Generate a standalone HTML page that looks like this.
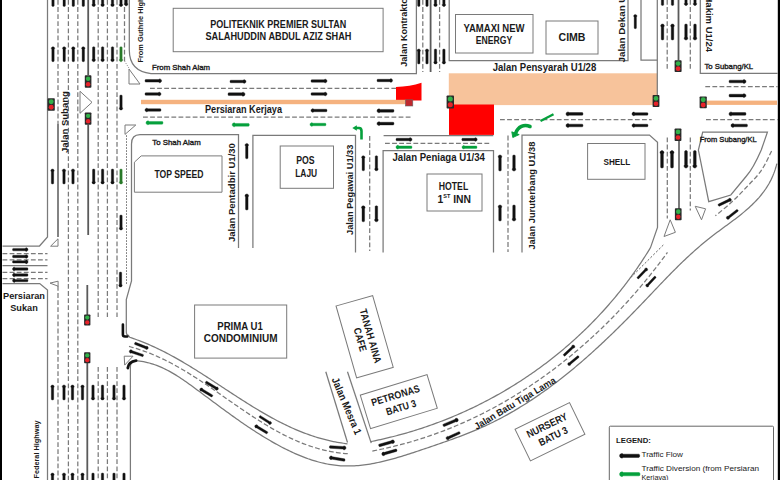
<!DOCTYPE html>
<html><head><meta charset="utf-8"><style>
html,body{margin:0;padding:0;background:#fff;width:780px;height:480px;overflow:hidden}
svg{display:block;font-family:"Liberation Sans",sans-serif}
</style></head><body>
<svg width="780" height="480" viewBox="0 0 780 480">
<rect width="780" height="480" fill="#fff"/>
<rect x="448.8" y="73.3" width="208.5" height="31.8" fill="#f7c39b" stroke="none" stroke-width="1.0"/>
<rect x="449" y="104.5" width="45" height="30.4" fill="#ff0000" stroke="none" stroke-width="1.0"/>
<path d="M396,87 Q410,86.5 421.5,82.8 L421.5,100.5 L396,100.5 Z" fill="#ff0000"/>
<rect x="141" y="99.8" width="265" height="4.4" fill="#f5b27f" stroke="none" stroke-width="1.0"/>
<rect x="706.7" y="100.6" width="70.3" height="4.3" fill="#f5b27f" stroke="none" stroke-width="1.0"/>
<rect x="405.4" y="99.8" width="7.4" height="6.2" fill="#c0272d" stroke="#666" stroke-width="0.6"/>
<path d="M47.5,0 L47.5,237 L39.5,246 L2.5,246" stroke="#7a7a7a" stroke-width="1.25" fill="none"/>
<path d="M2.5,283.5 L39.75,283.5 L47.5,290 L47.5,480" stroke="#7a7a7a" stroke-width="1.25" fill="none"/>
<line x1="58" y1="0" x2="58" y2="124" stroke="#7a7a7a" stroke-width="1.25" stroke-dasharray="4.8 2.3"/>
<line x1="58" y1="124" x2="58" y2="237" stroke="#5a5a5a" stroke-width="1.5"/>
<line x1="58" y1="286" x2="58" y2="480" stroke="#7a7a7a" stroke-width="1.25" stroke-dasharray="4.8 2.3"/>
<line x1="68.4" y1="0" x2="68.4" y2="480" stroke="#7a7a7a" stroke-width="1.25" stroke-dasharray="4.8 2.3"/>
<line x1="77.8" y1="0" x2="77.8" y2="480" stroke="#7a7a7a" stroke-width="1.25" stroke-dasharray="4.8 2.3"/>
<line x1="88.2" y1="0" x2="88.2" y2="75" stroke="#5a5a5a" stroke-width="1.8"/>
<line x1="88.2" y1="124.7" x2="88.2" y2="235" stroke="#5a5a5a" stroke-width="1.8"/>
<line x1="87.3" y1="285" x2="87.3" y2="315" stroke="#5a5a5a" stroke-width="1.8"/>
<line x1="87.3" y1="362" x2="87.3" y2="480" stroke="#5a5a5a" stroke-width="1.8"/>
<line x1="98.2" y1="0" x2="98.2" y2="317" stroke="#7a7a7a" stroke-width="1.25" stroke-dasharray="4.8 2.3"/>
<line x1="98.2" y1="367" x2="98.2" y2="480" stroke="#7a7a7a" stroke-width="1.25" stroke-dasharray="4.8 2.3"/>
<line x1="107.4" y1="0" x2="107.4" y2="317" stroke="#7a7a7a" stroke-width="1.25" stroke-dasharray="4.8 2.3"/>
<line x1="107.4" y1="367" x2="107.4" y2="480" stroke="#7a7a7a" stroke-width="1.25" stroke-dasharray="4.8 2.3"/>
<line x1="117" y1="0" x2="117" y2="317" stroke="#7a7a7a" stroke-width="1.25" stroke-dasharray="4.8 2.3"/>
<line x1="117" y1="367" x2="117" y2="480" stroke="#7a7a7a" stroke-width="1.25" stroke-dasharray="4.8 2.3"/>
<line x1="124.5" y1="0" x2="124.5" y2="61" stroke="#7a7a7a" stroke-width="1.25" stroke-dasharray="4.8 2.3"/>
<path d="M0,-7.6 C1.1,-7.6 1.75,-6.7 1.75,-5.7 L1.2,-4.7 L1.2,6.9 Q1.2,7.6 0,7.6 Q-1.2,7.6 -1.2,6.9 L-1.2,-4.7 L-1.75,-5.7 C-1.75,-6.7 -1.1,-7.6 0,-7.6 Z" fill="#111" stroke="#111" stroke-width="0.35" stroke-linejoin="round" transform="translate(126.20,-1.60) rotate(180.0) scale(0.974)"/>
<path d="M124.5,61 L129.5,69" stroke="#7a7a7a" stroke-width="0.8" fill="none" stroke-dasharray="1.2 1.2"/>
<line x1="126.5" y1="135.3" x2="126.5" y2="284" stroke="#666" stroke-width="1.0" stroke-dasharray="1.5 1.5"/>
<path d="M129.3,0 L129.3,50 C129.3,64 137,72 151,73.6 L416.4,73.6 L416.4,0" stroke="#7a7a7a" stroke-width="1.25" fill="none"/>
<path d="M238.5,248 L238.5,134.6 L140,134.6 C134.5,134.6 131.5,138 131.5,144 L131.5,281 L126.3,299.5 L126.3,332 Q126.3,335 128.3,335.4 L129.74,337.33 L131.66,337.96 L133.57,338.61 L135.47,339.28 L137.36,339.97 L139.24,340.67 L141.12,341.39 L142.99,342.13 L144.85,342.88 L146.71,343.65 L148.56,344.44 L150.40,345.24 L152.23,346.06 L154.06,346.89 L155.88,347.74 L157.70,348.60 L159.51,349.47 L161.32,350.36 L163.12,351.26 L164.91,352.17 L166.70,353.10 L168.48,354.03 L170.26,354.98 L172.03,355.94 L173.80,356.91 L175.56,357.89 L177.32,358.88 L179.08,359.88 L180.83,360.89 L182.58,361.91 L184.32,362.94 L186.06,363.97 L187.80,365.01 L189.53,366.06 L191.26,367.12 L192.99,368.18 L194.71,369.25 L196.43,370.33 L198.15,371.41 L199.87,372.49 L201.58,373.58 L203.30,374.68 L205.01,375.78 L206.72,376.88 L208.42,377.99 L210.13,379.09 L211.83,380.21 L213.54,381.32 L215.24,382.44 L216.94,383.55 L218.64,384.67 L220.34,385.79 L222.04,386.91 L223.74,388.03 L225.44,389.15 L227.14,390.26 L228.84,391.38 L230.54,392.50 L232.25,393.61 L233.95,394.72 L235.65,395.83 L237.36,396.93 L239.06,398.04 L240.77,399.13 L242.48,400.23 L244.19,401.32 L245.90,402.40 L247.61,403.48 L249.33,404.56 L251.05,405.63 L252.77,406.69 L254.49,407.74 L256.22,408.79 L257.95,409.83 L259.68,410.86 L261.42,411.89 L263.15,412.90 L264.90,413.91 L266.64,414.91 L268.39,415.90 L270.15,416.88 L271.91,417.84 L273.67,418.80 L275.44,419.75 L277.21,420.68 L278.98,421.60 L280.77,422.51 L282.55,423.41 L284.35,424.29 L286.14,425.17 L287.95,426.02 L289.75,426.87 L291.57,427.70 L293.39,428.51 L295.22,429.31 L297.05,430.09 L298.89,430.86 L300.74,431.61 L302.59,432.34 L304.45,433.06 L306.32,433.76 L308.19,434.44 L310.08,435.11 L311.97,435.75 L313.86,436.38 L315.77,436.99 L317.68,437.57 L319.60,438.14 L321.54,438.69 L323.47,439.21 L325.42,439.72 L327.38,440.20 L329.34,440.66 L331.32,441.10 L333.30,441.52 L335.30,441.91 L337.30,442.28 L339.31,442.63 L341.34,442.95 L343.37,443.25 L345.41,443.52 L347.47,443.77" stroke="#7a7a7a" stroke-width="1.25" fill="none"/>
<line x1="2.5" y1="265.6" x2="47.5" y2="265.6" stroke="#7a7a7a" stroke-width="1.25"/>
<line x1="2.5" y1="253.5" x2="47.5" y2="253.5" stroke="#7a7a7a" stroke-width="1.25" stroke-dasharray="4.8 2.3"/>
<line x1="2.5" y1="259.75" x2="47.5" y2="259.75" stroke="#7a7a7a" stroke-width="1.25" stroke-dasharray="4.8 2.3"/>
<line x1="2.5" y1="272.25" x2="47.5" y2="272.25" stroke="#7a7a7a" stroke-width="1.25" stroke-dasharray="4.8 2.3"/>
<line x1="2.5" y1="278.5" x2="47.5" y2="278.5" stroke="#7a7a7a" stroke-width="1.25" stroke-dasharray="4.8 2.3"/>
<path d="M0,-7.6 C1.1,-7.6 1.75,-6.7 1.75,-5.7 L1.2,-4.7 L1.2,6.9 Q1.2,7.6 0,7.6 Q-1.2,7.6 -1.2,6.9 L-1.2,-4.7 L-1.75,-5.7 C-1.75,-6.7 -1.1,-7.6 0,-7.6 Z" fill="#111" stroke="#111" stroke-width="0.35" stroke-linejoin="round" transform="translate(20.25,249.60) rotate(90.0) scale(1.020)"/>
<path d="M0,-7.6 C1.1,-7.6 1.75,-6.7 1.75,-5.7 L1.2,-4.7 L1.2,6.9 Q1.2,7.6 0,7.6 Q-1.2,7.6 -1.2,6.9 L-1.2,-4.7 L-1.75,-5.7 C-1.75,-6.7 -1.1,-7.6 0,-7.6 Z" fill="#111" stroke="#111" stroke-width="0.35" stroke-linejoin="round" transform="translate(20.25,256.50) rotate(90.0) scale(1.020)"/>
<path d="M0,-7.6 C1.1,-7.6 1.75,-6.7 1.75,-5.7 L1.2,-4.7 L1.2,6.9 Q1.2,7.6 0,7.6 Q-1.2,7.6 -1.2,6.9 L-1.2,-4.7 L-1.75,-5.7 C-1.75,-6.7 -1.1,-7.6 0,-7.6 Z" fill="#111" stroke="#111" stroke-width="0.35" stroke-linejoin="round" transform="translate(20.25,261.90) rotate(90.0) scale(1.020)"/>
<path d="M0,-7.6 C1.1,-7.6 1.75,-6.7 1.75,-5.7 L1.2,-4.7 L1.2,6.9 Q1.2,7.6 0,7.6 Q-1.2,7.6 -1.2,6.9 L-1.2,-4.7 L-1.75,-5.7 C-1.75,-6.7 -1.1,-7.6 0,-7.6 Z" fill="#111" stroke="#111" stroke-width="0.35" stroke-linejoin="round" transform="translate(20.25,269.00) rotate(270.0) scale(1.020)"/>
<path d="M0,-7.6 C1.1,-7.6 1.75,-6.7 1.75,-5.7 L1.2,-4.7 L1.2,6.9 Q1.2,7.6 0,7.6 Q-1.2,7.6 -1.2,6.9 L-1.2,-4.7 L-1.75,-5.7 C-1.75,-6.7 -1.1,-7.6 0,-7.6 Z" fill="#111" stroke="#111" stroke-width="0.35" stroke-linejoin="round" transform="translate(20.25,275.00) rotate(270.0) scale(1.020)"/>
<path d="M0,-7.6 C1.1,-7.6 1.75,-6.7 1.75,-5.7 L1.2,-4.7 L1.2,6.9 Q1.2,7.6 0,7.6 Q-1.2,7.6 -1.2,6.9 L-1.2,-4.7 L-1.75,-5.7 C-1.75,-6.7 -1.1,-7.6 0,-7.6 Z" fill="#111" stroke="#111" stroke-width="0.35" stroke-linejoin="round" transform="translate(20.25,280.60) rotate(270.0) scale(1.020)"/>
<polygon points="50.6,246.2 58.0,246.2 58.0,238.8" stroke="#7a7a7a" stroke-width="1.0" fill="none" stroke-linejoin="miter"/>
<polygon points="50.0,283.1 58.1,281.2 58.1,286.2" stroke="#7a7a7a" stroke-width="1.0" fill="none" stroke-linejoin="miter"/>
<text x="24" y="295.5" font-size="9" font-weight="bold" text-anchor="middle" dominant-baseline="central" fill="#1a1a1a" textLength="42" lengthAdjust="spacingAndGlyphs">Persiaran</text>
<text x="24" y="307.5" font-size="9" font-weight="bold" text-anchor="middle" dominant-baseline="central" fill="#1a1a1a" textLength="27.5" lengthAdjust="spacingAndGlyphs">Sukan</text>
<path d="M0,-7.6 C1.1,-7.6 1.75,-6.7 1.75,-5.7 L1.2,-4.7 L1.2,6.9 Q1.2,7.6 0,7.6 Q-1.2,7.6 -1.2,6.9 L-1.2,-4.7 L-1.75,-5.7 C-1.75,-6.7 -1.1,-7.6 0,-7.6 Z" fill="#111" stroke="#111" stroke-width="0.35" stroke-linejoin="round" transform="translate(53.00,-1.00) rotate(0.0) scale(0.987)"/>
<path d="M0,-7.6 C1.1,-7.6 1.75,-6.7 1.75,-5.7 L1.2,-4.7 L1.2,6.9 Q1.2,7.6 0,7.6 Q-1.2,7.6 -1.2,6.9 L-1.2,-4.7 L-1.75,-5.7 C-1.75,-6.7 -1.1,-7.6 0,-7.6 Z" fill="#111" stroke="#111" stroke-width="0.35" stroke-linejoin="round" transform="translate(64.20,-1.00) rotate(0.0) scale(0.987)"/>
<path d="M0,-7.6 C1.1,-7.6 1.75,-6.7 1.75,-5.7 L1.2,-4.7 L1.2,6.9 Q1.2,7.6 0,7.6 Q-1.2,7.6 -1.2,6.9 L-1.2,-4.7 L-1.75,-5.7 C-1.75,-6.7 -1.1,-7.6 0,-7.6 Z" fill="#111" stroke="#111" stroke-width="0.35" stroke-linejoin="round" transform="translate(73.30,-1.00) rotate(0.0) scale(0.987)"/>
<path d="M0,-7.6 C1.1,-7.6 1.75,-6.7 1.75,-5.7 L1.2,-4.7 L1.2,6.9 Q1.2,7.6 0,7.6 Q-1.2,7.6 -1.2,6.9 L-1.2,-4.7 L-1.75,-5.7 C-1.75,-6.7 -1.1,-7.6 0,-7.6 Z" fill="#111" stroke="#111" stroke-width="0.35" stroke-linejoin="round" transform="translate(83.30,-1.00) rotate(0.0) scale(0.987)"/>
<path d="M0,-7.6 C1.1,-7.6 1.75,-6.7 1.75,-5.7 L1.2,-4.7 L1.2,6.9 Q1.2,7.6 0,7.6 Q-1.2,7.6 -1.2,6.9 L-1.2,-4.7 L-1.75,-5.7 C-1.75,-6.7 -1.1,-7.6 0,-7.6 Z" fill="#111" stroke="#111" stroke-width="0.35" stroke-linejoin="round" transform="translate(93.70,-1.00) rotate(180.0) scale(0.987)"/>
<path d="M0,-7.6 C1.1,-7.6 1.75,-6.7 1.75,-5.7 L1.2,-4.7 L1.2,6.9 Q1.2,7.6 0,7.6 Q-1.2,7.6 -1.2,6.9 L-1.2,-4.7 L-1.75,-5.7 C-1.75,-6.7 -1.1,-7.6 0,-7.6 Z" fill="#111" stroke="#111" stroke-width="0.35" stroke-linejoin="round" transform="translate(102.60,-1.00) rotate(180.0) scale(0.987)"/>
<path d="M0,-7.6 C1.1,-7.6 1.75,-6.7 1.75,-5.7 L1.2,-4.7 L1.2,6.9 Q1.2,7.6 0,7.6 Q-1.2,7.6 -1.2,6.9 L-1.2,-4.7 L-1.75,-5.7 C-1.75,-6.7 -1.1,-7.6 0,-7.6 Z" fill="#111" stroke="#111" stroke-width="0.35" stroke-linejoin="round" transform="translate(112.50,-1.00) rotate(180.0) scale(0.987)"/>
<path d="M0,-7.6 C1.1,-7.6 1.75,-6.7 1.75,-5.7 L1.2,-4.7 L1.2,6.9 Q1.2,7.6 0,7.6 Q-1.2,7.6 -1.2,6.9 L-1.2,-4.7 L-1.75,-5.7 C-1.75,-6.7 -1.1,-7.6 0,-7.6 Z" fill="#111" stroke="#111" stroke-width="0.35" stroke-linejoin="round" transform="translate(121.00,-1.00) rotate(180.0) scale(0.987)"/>
<path d="M0,-7.6 C1.1,-7.6 1.75,-6.7 1.75,-5.7 L1.2,-4.7 L1.2,6.9 Q1.2,7.6 0,7.6 Q-1.2,7.6 -1.2,6.9 L-1.2,-4.7 L-1.75,-5.7 C-1.75,-6.7 -1.1,-7.6 0,-7.6 Z" fill="#111" stroke="#111" stroke-width="0.35" stroke-linejoin="round" transform="translate(53.00,54.20) rotate(0.0) scale(0.987)"/>
<path d="M0,-7.6 C1.1,-7.6 1.75,-6.7 1.75,-5.7 L1.2,-4.7 L1.2,6.9 Q1.2,7.6 0,7.6 Q-1.2,7.6 -1.2,6.9 L-1.2,-4.7 L-1.75,-5.7 C-1.75,-6.7 -1.1,-7.6 0,-7.6 Z" fill="#111" stroke="#111" stroke-width="0.35" stroke-linejoin="round" transform="translate(64.20,54.20) rotate(0.0) scale(0.987)"/>
<path d="M0,-7.6 C1.1,-7.6 1.75,-6.7 1.75,-5.7 L1.2,-4.7 L1.2,6.9 Q1.2,7.6 0,7.6 Q-1.2,7.6 -1.2,6.9 L-1.2,-4.7 L-1.75,-5.7 C-1.75,-6.7 -1.1,-7.6 0,-7.6 Z" fill="#111" stroke="#111" stroke-width="0.35" stroke-linejoin="round" transform="translate(73.30,54.20) rotate(0.0) scale(0.987)"/>
<path d="M0,-7.6 C1.1,-7.6 1.75,-6.7 1.75,-5.7 L1.2,-4.7 L1.2,6.9 Q1.2,7.6 0,7.6 Q-1.2,7.6 -1.2,6.9 L-1.2,-4.7 L-1.75,-5.7 C-1.75,-6.7 -1.1,-7.6 0,-7.6 Z" fill="#111" stroke="#111" stroke-width="0.35" stroke-linejoin="round" transform="translate(83.30,54.20) rotate(0.0) scale(0.987)"/>
<path d="M0,-7.6 C1.1,-7.6 1.75,-6.7 1.75,-5.7 L1.2,-4.7 L1.2,6.9 Q1.2,7.6 0,7.6 Q-1.2,7.6 -1.2,6.9 L-1.2,-4.7 L-1.75,-5.7 C-1.75,-6.7 -1.1,-7.6 0,-7.6 Z" fill="#111" stroke="#111" stroke-width="0.35" stroke-linejoin="round" transform="translate(93.70,54.20) rotate(180.0) scale(0.987)"/>
<path d="M0,-7.6 C1.1,-7.6 1.75,-6.7 1.75,-5.7 L1.2,-4.7 L1.2,6.9 Q1.2,7.6 0,7.6 Q-1.2,7.6 -1.2,6.9 L-1.2,-4.7 L-1.75,-5.7 C-1.75,-6.7 -1.1,-7.6 0,-7.6 Z" fill="#111" stroke="#111" stroke-width="0.35" stroke-linejoin="round" transform="translate(102.60,54.20) rotate(180.0) scale(0.987)"/>
<path d="M0,-7.6 C1.1,-7.6 1.75,-6.7 1.75,-5.7 L1.2,-4.7 L1.2,6.9 Q1.2,7.6 0,7.6 Q-1.2,7.6 -1.2,6.9 L-1.2,-4.7 L-1.75,-5.7 C-1.75,-6.7 -1.1,-7.6 0,-7.6 Z" fill="#111" stroke="#111" stroke-width="0.35" stroke-linejoin="round" transform="translate(112.50,54.20) rotate(180.0) scale(0.987)"/>
<path d="M0,-7.6 C1.1,-7.6 1.75,-6.7 1.75,-5.7 L1.2,-4.7 L1.2,6.9 Q1.2,7.6 0,7.6 Q-1.2,7.6 -1.2,6.9 L-1.2,-4.7 L-1.75,-5.7 C-1.75,-6.7 -1.1,-7.6 0,-7.6 Z" fill="#2a7a2a" stroke="#2a7a2a" stroke-width="0.35" stroke-linejoin="round" transform="translate(121.00,54.20) rotate(180.0) scale(0.987)"/>
<path d="M0,-7.6 C1.1,-7.6 1.75,-6.7 1.75,-5.7 L1.2,-4.7 L1.2,6.9 Q1.2,7.6 0,7.6 Q-1.2,7.6 -1.2,6.9 L-1.2,-4.7 L-1.75,-5.7 C-1.75,-6.7 -1.1,-7.6 0,-7.6 Z" fill="#111" stroke="#111" stroke-width="0.35" stroke-linejoin="round" transform="translate(52.50,176.50) rotate(0.0) scale(0.987)"/>
<path d="M0,-7.6 C1.1,-7.6 1.75,-6.7 1.75,-5.7 L1.2,-4.7 L1.2,6.9 Q1.2,7.6 0,7.6 Q-1.2,7.6 -1.2,6.9 L-1.2,-4.7 L-1.75,-5.7 C-1.75,-6.7 -1.1,-7.6 0,-7.6 Z" fill="#111" stroke="#111" stroke-width="0.35" stroke-linejoin="round" transform="translate(64.00,176.50) rotate(0.0) scale(0.987)"/>
<path d="M0,-7.6 C1.1,-7.6 1.75,-6.7 1.75,-5.7 L1.2,-4.7 L1.2,6.9 Q1.2,7.6 0,7.6 Q-1.2,7.6 -1.2,6.9 L-1.2,-4.7 L-1.75,-5.7 C-1.75,-6.7 -1.1,-7.6 0,-7.6 Z" fill="#111" stroke="#111" stroke-width="0.35" stroke-linejoin="round" transform="translate(73.00,176.50) rotate(0.0) scale(0.987)"/>
<path d="M0,-7.6 C1.1,-7.6 1.75,-6.7 1.75,-5.7 L1.2,-4.7 L1.2,6.9 Q1.2,7.6 0,7.6 Q-1.2,7.6 -1.2,6.9 L-1.2,-4.7 L-1.75,-5.7 C-1.75,-6.7 -1.1,-7.6 0,-7.6 Z" fill="#111" stroke="#111" stroke-width="0.35" stroke-linejoin="round" transform="translate(93.70,176.50) rotate(180.0) scale(0.987)"/>
<path d="M0,-7.6 C1.1,-7.6 1.75,-6.7 1.75,-5.7 L1.2,-4.7 L1.2,6.9 Q1.2,7.6 0,7.6 Q-1.2,7.6 -1.2,6.9 L-1.2,-4.7 L-1.75,-5.7 C-1.75,-6.7 -1.1,-7.6 0,-7.6 Z" fill="#111" stroke="#111" stroke-width="0.35" stroke-linejoin="round" transform="translate(102.60,176.50) rotate(180.0) scale(0.987)"/>
<path d="M0,-7.6 C1.1,-7.6 1.75,-6.7 1.75,-5.7 L1.2,-4.7 L1.2,6.9 Q1.2,7.6 0,7.6 Q-1.2,7.6 -1.2,6.9 L-1.2,-4.7 L-1.75,-5.7 C-1.75,-6.7 -1.1,-7.6 0,-7.6 Z" fill="#111" stroke="#111" stroke-width="0.35" stroke-linejoin="round" transform="translate(112.50,176.50) rotate(180.0) scale(0.987)"/>
<path d="M0,-7.6 C1.1,-7.6 1.75,-6.7 1.75,-5.7 L1.2,-4.7 L1.2,6.9 Q1.2,7.6 0,7.6 Q-1.2,7.6 -1.2,6.9 L-1.2,-4.7 L-1.75,-5.7 C-1.75,-6.7 -1.1,-7.6 0,-7.6 Z" fill="#2a7a2a" stroke="#2a7a2a" stroke-width="0.35" stroke-linejoin="round" transform="translate(121.00,176.50) rotate(180.0) scale(0.987)"/>
<path d="M0,-7.6 C1.1,-7.6 1.75,-6.7 1.75,-5.7 L1.2,-4.7 L1.2,6.9 Q1.2,7.6 0,7.6 Q-1.2,7.6 -1.2,6.9 L-1.2,-4.7 L-1.75,-5.7 C-1.75,-6.7 -1.1,-7.6 0,-7.6 Z" fill="#111" stroke="#111" stroke-width="0.35" stroke-linejoin="round" transform="translate(121.00,102.50) rotate(180.0) scale(0.987)"/>
<path d="M0,-7.6 C1.1,-7.6 1.75,-6.7 1.75,-5.7 L1.2,-4.7 L1.2,6.9 Q1.2,7.6 0,7.6 Q-1.2,7.6 -1.2,6.9 L-1.2,-4.7 L-1.75,-5.7 C-1.75,-6.7 -1.1,-7.6 0,-7.6 Z" fill="#111" stroke="#111" stroke-width="0.35" stroke-linejoin="round" transform="translate(121.00,222.50) rotate(180.0) scale(0.987)"/>
<path d="M0,-7.6 C1.1,-7.6 1.75,-6.7 1.75,-5.7 L1.2,-4.7 L1.2,6.9 Q1.2,7.6 0,7.6 Q-1.2,7.6 -1.2,6.9 L-1.2,-4.7 L-1.75,-5.7 C-1.75,-6.7 -1.1,-7.6 0,-7.6 Z" fill="#111" stroke="#111" stroke-width="0.35" stroke-linejoin="round" transform="translate(120.50,279.50) rotate(180.0) scale(0.987)"/>
<path d="M0,-7.6 C1.1,-7.6 1.75,-6.7 1.75,-5.7 L1.2,-4.7 L1.2,6.9 Q1.2,7.6 0,7.6 Q-1.2,7.6 -1.2,6.9 L-1.2,-4.7 L-1.75,-5.7 C-1.75,-6.7 -1.1,-7.6 0,-7.6 Z" fill="#111" stroke="#111" stroke-width="0.35" stroke-linejoin="round" transform="translate(52.50,392.50) rotate(0.0) scale(0.987)"/>
<path d="M0,-7.6 C1.1,-7.6 1.75,-6.7 1.75,-5.7 L1.2,-4.7 L1.2,6.9 Q1.2,7.6 0,7.6 Q-1.2,7.6 -1.2,6.9 L-1.2,-4.7 L-1.75,-5.7 C-1.75,-6.7 -1.1,-7.6 0,-7.6 Z" fill="#111" stroke="#111" stroke-width="0.35" stroke-linejoin="round" transform="translate(64.00,392.50) rotate(0.0) scale(0.987)"/>
<path d="M0,-7.6 C1.1,-7.6 1.75,-6.7 1.75,-5.7 L1.2,-4.7 L1.2,6.9 Q1.2,7.6 0,7.6 Q-1.2,7.6 -1.2,6.9 L-1.2,-4.7 L-1.75,-5.7 C-1.75,-6.7 -1.1,-7.6 0,-7.6 Z" fill="#111" stroke="#111" stroke-width="0.35" stroke-linejoin="round" transform="translate(72.50,392.50) rotate(0.0) scale(0.987)"/>
<path d="M0,-7.6 C1.1,-7.6 1.75,-6.7 1.75,-5.7 L1.2,-4.7 L1.2,6.9 Q1.2,7.6 0,7.6 Q-1.2,7.6 -1.2,6.9 L-1.2,-4.7 L-1.75,-5.7 C-1.75,-6.7 -1.1,-7.6 0,-7.6 Z" fill="#111" stroke="#111" stroke-width="0.35" stroke-linejoin="round" transform="translate(82.50,392.50) rotate(0.0) scale(0.987)"/>
<path d="M0,-7.6 C1.1,-7.6 1.75,-6.7 1.75,-5.7 L1.2,-4.7 L1.2,6.9 Q1.2,7.6 0,7.6 Q-1.2,7.6 -1.2,6.9 L-1.2,-4.7 L-1.75,-5.7 C-1.75,-6.7 -1.1,-7.6 0,-7.6 Z" fill="#111" stroke="#111" stroke-width="0.35" stroke-linejoin="round" transform="translate(93.00,392.50) rotate(180.0) scale(0.987)"/>
<path d="M0,-7.6 C1.1,-7.6 1.75,-6.7 1.75,-5.7 L1.2,-4.7 L1.2,6.9 Q1.2,7.6 0,7.6 Q-1.2,7.6 -1.2,6.9 L-1.2,-4.7 L-1.75,-5.7 C-1.75,-6.7 -1.1,-7.6 0,-7.6 Z" fill="#111" stroke="#111" stroke-width="0.35" stroke-linejoin="round" transform="translate(102.50,392.50) rotate(180.0) scale(0.987)"/>
<path d="M0,-7.6 C1.1,-7.6 1.75,-6.7 1.75,-5.7 L1.2,-4.7 L1.2,6.9 Q1.2,7.6 0,7.6 Q-1.2,7.6 -1.2,6.9 L-1.2,-4.7 L-1.75,-5.7 C-1.75,-6.7 -1.1,-7.6 0,-7.6 Z" fill="#111" stroke="#111" stroke-width="0.35" stroke-linejoin="round" transform="translate(114.00,392.50) rotate(180.0) scale(0.987)"/>
<path d="M0,-7.6 C1.1,-7.6 1.75,-6.7 1.75,-5.7 L1.2,-4.7 L1.2,6.9 Q1.2,7.6 0,7.6 Q-1.2,7.6 -1.2,6.9 L-1.2,-4.7 L-1.75,-5.7 C-1.75,-6.7 -1.1,-7.6 0,-7.6 Z" fill="#111" stroke="#111" stroke-width="0.35" stroke-linejoin="round" transform="translate(124.00,392.50) rotate(180.0) scale(0.987)"/>
<path d="M0,-7.6 C1.1,-7.6 1.75,-6.7 1.75,-5.7 L1.2,-4.7 L1.2,6.9 Q1.2,7.6 0,7.6 Q-1.2,7.6 -1.2,6.9 L-1.2,-4.7 L-1.75,-5.7 C-1.75,-6.7 -1.1,-7.6 0,-7.6 Z" fill="#111" stroke="#111" stroke-width="0.35" stroke-linejoin="round" transform="translate(52.50,480.50) rotate(0.0) scale(0.987)"/>
<path d="M0,-7.6 C1.1,-7.6 1.75,-6.7 1.75,-5.7 L1.2,-4.7 L1.2,6.9 Q1.2,7.6 0,7.6 Q-1.2,7.6 -1.2,6.9 L-1.2,-4.7 L-1.75,-5.7 C-1.75,-6.7 -1.1,-7.6 0,-7.6 Z" fill="#111" stroke="#111" stroke-width="0.35" stroke-linejoin="round" transform="translate(64.00,480.50) rotate(0.0) scale(0.987)"/>
<path d="M0,-7.6 C1.1,-7.6 1.75,-6.7 1.75,-5.7 L1.2,-4.7 L1.2,6.9 Q1.2,7.6 0,7.6 Q-1.2,7.6 -1.2,6.9 L-1.2,-4.7 L-1.75,-5.7 C-1.75,-6.7 -1.1,-7.6 0,-7.6 Z" fill="#111" stroke="#111" stroke-width="0.35" stroke-linejoin="round" transform="translate(72.50,480.50) rotate(0.0) scale(0.987)"/>
<path d="M0,-7.6 C1.1,-7.6 1.75,-6.7 1.75,-5.7 L1.2,-4.7 L1.2,6.9 Q1.2,7.6 0,7.6 Q-1.2,7.6 -1.2,6.9 L-1.2,-4.7 L-1.75,-5.7 C-1.75,-6.7 -1.1,-7.6 0,-7.6 Z" fill="#111" stroke="#111" stroke-width="0.35" stroke-linejoin="round" transform="translate(82.50,480.50) rotate(0.0) scale(0.987)"/>
<path d="M0,-7.6 C1.1,-7.6 1.75,-6.7 1.75,-5.7 L1.2,-4.7 L1.2,6.9 Q1.2,7.6 0,7.6 Q-1.2,7.6 -1.2,6.9 L-1.2,-4.7 L-1.75,-5.7 C-1.75,-6.7 -1.1,-7.6 0,-7.6 Z" fill="#111" stroke="#111" stroke-width="0.35" stroke-linejoin="round" transform="translate(93.00,480.50) rotate(180.0) scale(0.987)"/>
<path d="M0,-7.6 C1.1,-7.6 1.75,-6.7 1.75,-5.7 L1.2,-4.7 L1.2,6.9 Q1.2,7.6 0,7.6 Q-1.2,7.6 -1.2,6.9 L-1.2,-4.7 L-1.75,-5.7 C-1.75,-6.7 -1.1,-7.6 0,-7.6 Z" fill="#111" stroke="#111" stroke-width="0.35" stroke-linejoin="round" transform="translate(102.50,480.50) rotate(180.0) scale(0.987)"/>
<path d="M0,-7.6 C1.1,-7.6 1.75,-6.7 1.75,-5.7 L1.2,-4.7 L1.2,6.9 Q1.2,7.6 0,7.6 Q-1.2,7.6 -1.2,6.9 L-1.2,-4.7 L-1.75,-5.7 C-1.75,-6.7 -1.1,-7.6 0,-7.6 Z" fill="#111" stroke="#111" stroke-width="0.35" stroke-linejoin="round" transform="translate(114.00,480.50) rotate(180.0) scale(0.987)"/>
<path d="M0,-7.6 C1.1,-7.6 1.75,-6.7 1.75,-5.7 L1.2,-4.7 L1.2,6.9 Q1.2,7.6 0,7.6 Q-1.2,7.6 -1.2,6.9 L-1.2,-4.7 L-1.75,-5.7 C-1.75,-6.7 -1.1,-7.6 0,-7.6 Z" fill="#111" stroke="#111" stroke-width="0.35" stroke-linejoin="round" transform="translate(124.00,480.50) rotate(180.0) scale(0.987)"/>
<rect x="84.8" y="75.3" width="6.60" height="12.50" fill="#2a2a2a" rx="0.8"/>
<circle cx="88.10" cy="78.80" r="2.24" fill="#33b24a"/>
<circle cx="88.10" cy="84.30" r="2.24" fill="#e8232a"/>
<rect x="84.8" y="112.4" width="6.60" height="12.40" fill="#2a2a2a" rx="0.8"/>
<circle cx="88.10" cy="115.87" r="2.24" fill="#33b24a"/>
<circle cx="88.10" cy="121.33" r="2.24" fill="#e8232a"/>
<rect x="47.6" y="98.3" width="7.20" height="12.50" fill="#2a2a2a" rx="0.8"/>
<circle cx="51.20" cy="101.80" r="2.45" fill="#33b24a"/>
<circle cx="51.20" cy="107.30" r="2.45" fill="#e8232a"/>
<rect x="84.1" y="314.5" width="6.30" height="11.00" fill="#2a2a2a" rx="0.8"/>
<circle cx="87.25" cy="317.58" r="2.14" fill="#33b24a"/>
<circle cx="87.25" cy="322.42" r="2.14" fill="#e8232a"/>
<rect x="84.1" y="352.3" width="6.30" height="11.00" fill="#2a2a2a" rx="0.8"/>
<circle cx="87.25" cy="355.38" r="2.14" fill="#33b24a"/>
<circle cx="87.25" cy="360.22" r="2.14" fill="#e8232a"/>
<polygon points="80.0,91.3 80.0,113.3 92.0,102.3" stroke="#7a7a7a" stroke-width="1.0" fill="none" stroke-linejoin="miter"/>
<polygon points="129.0,69.0 129.0,84.0 140.0,84.0" stroke="#7a7a7a" stroke-width="1.0" fill="none" stroke-linejoin="miter"/>
<polygon points="125.0,125.0 135.8,125.0 125.0,134.4" stroke="#7a7a7a" stroke-width="1.0" fill="none" stroke-linejoin="miter"/>
<text x="65" y="122.1" font-size="9.5" font-weight="bold" text-anchor="middle" dominant-baseline="central" fill="#1a1a1a" textLength="62" lengthAdjust="spacingAndGlyphs" transform="rotate(-90 65 122.1)">Jalan Subang</text>
<text x="140" y="62.5" font-size="8" font-weight="bold" text-anchor="start" dominant-baseline="central" fill="#1a1a1a" textLength="79" lengthAdjust="spacingAndGlyphs" transform="rotate(-90 140 62.5)">From Guthrie Highway</text>
<text x="36" y="449.5" font-size="8" font-weight="bold" text-anchor="middle" dominant-baseline="central" fill="#1a1a1a" textLength="58" lengthAdjust="spacingAndGlyphs" transform="rotate(-90 36 449.5)">Federal Highway</text>
<path d="M122.9,324.5 L122.9,334.5 Q122.9,336.5 125,336.5 L127.3,336.5" stroke="#111" stroke-width="2.6" fill="none" stroke-linecap="round"/>
<rect x="173.2" y="8.3" width="209.9" height="43.4" fill="none" stroke="#7a7a7a" stroke-width="1.0"/>
<text x="278.2" y="23.7" font-size="10.5" font-weight="bold" text-anchor="middle" dominant-baseline="central" fill="#1a1a1a" textLength="136" lengthAdjust="spacingAndGlyphs">POLITEKNIK PREMIER SULTAN</text>
<text x="278.5" y="36" font-size="10.5" font-weight="bold" text-anchor="middle" dominant-baseline="central" fill="#1a1a1a" textLength="146" lengthAdjust="spacingAndGlyphs">SALAHUDDIN ABDUL AZIZ SHAH</text>
<text x="181" y="67" font-size="7.5" font-weight="normal" text-anchor="middle" dominant-baseline="central" fill="#1a1a1a" stroke="#1a1a1a" stroke-width="0.35" textLength="58" lengthAdjust="spacingAndGlyphs">From Shah Alam</text>
<path d="M0,-7.6 C1.1,-7.6 1.75,-6.7 1.75,-5.7 L1.2,-4.7 L1.2,6.9 Q1.2,7.6 0,7.6 Q-1.2,7.6 -1.2,6.9 L-1.2,-4.7 L-1.75,-5.7 C-1.75,-6.7 -1.1,-7.6 0,-7.6 Z" fill="#111" stroke="#111" stroke-width="0.35" stroke-linejoin="round" transform="translate(153.30,80.80) rotate(90.0) scale(1.092)"/>
<path d="M0,-7.6 C1.1,-7.6 1.75,-6.7 1.75,-5.7 L1.2,-4.7 L1.2,6.9 Q1.2,7.6 0,7.6 Q-1.2,7.6 -1.2,6.9 L-1.2,-4.7 L-1.75,-5.7 C-1.75,-6.7 -1.1,-7.6 0,-7.6 Z" fill="#111" stroke="#111" stroke-width="0.35" stroke-linejoin="round" transform="translate(153.00,94.00) rotate(90.0) scale(1.053)"/>
<path d="M0,-7.6 C1.1,-7.6 1.75,-6.7 1.75,-5.7 L1.2,-4.7 L1.2,6.9 Q1.2,7.6 0,7.6 Q-1.2,7.6 -1.2,6.9 L-1.2,-4.7 L-1.75,-5.7 C-1.75,-6.7 -1.1,-7.6 0,-7.6 Z" fill="#111" stroke="#111" stroke-width="0.35" stroke-linejoin="round" transform="translate(238.00,81.50) rotate(90.0) scale(1.053)"/>
<path d="M0,-7.6 C1.1,-7.6 1.75,-6.7 1.75,-5.7 L1.2,-4.7 L1.2,6.9 Q1.2,7.6 0,7.6 Q-1.2,7.6 -1.2,6.9 L-1.2,-4.7 L-1.75,-5.7 C-1.75,-6.7 -1.1,-7.6 0,-7.6 Z" fill="#111" stroke="#111" stroke-width="0.35" stroke-linejoin="round" transform="translate(236.50,94.20) rotate(90.0) scale(1.118)"/>
<path d="M0,-7.6 C1.1,-7.6 1.75,-6.7 1.75,-5.7 L1.2,-4.7 L1.2,6.9 Q1.2,7.6 0,7.6 Q-1.2,7.6 -1.2,6.9 L-1.2,-4.7 L-1.75,-5.7 C-1.75,-6.7 -1.1,-7.6 0,-7.6 Z" fill="#111" stroke="#111" stroke-width="0.35" stroke-linejoin="round" transform="translate(319.00,81.00) rotate(90.0) scale(1.053)"/>
<path d="M0,-7.6 C1.1,-7.6 1.75,-6.7 1.75,-5.7 L1.2,-4.7 L1.2,6.9 Q1.2,7.6 0,7.6 Q-1.2,7.6 -1.2,6.9 L-1.2,-4.7 L-1.75,-5.7 C-1.75,-6.7 -1.1,-7.6 0,-7.6 Z" fill="#111" stroke="#111" stroke-width="0.35" stroke-linejoin="round" transform="translate(319.00,94.00) rotate(90.0) scale(1.053)"/>
<path d="M0,-7.6 C1.1,-7.6 1.75,-6.7 1.75,-5.7 L1.2,-4.7 L1.2,6.9 Q1.2,7.6 0,7.6 Q-1.2,7.6 -1.2,6.9 L-1.2,-4.7 L-1.75,-5.7 C-1.75,-6.7 -1.1,-7.6 0,-7.6 Z" fill="#111" stroke="#111" stroke-width="0.35" stroke-linejoin="round" transform="translate(384.80,80.50) rotate(90.0) scale(1.026)"/>
<path d="M0,-7.6 C1.1,-7.6 1.75,-6.7 1.75,-5.7 L1.2,-4.7 L1.2,6.9 Q1.2,7.6 0,7.6 Q-1.2,7.6 -1.2,6.9 L-1.2,-4.7 L-1.75,-5.7 C-1.75,-6.7 -1.1,-7.6 0,-7.6 Z" fill="#111" stroke="#111" stroke-width="0.35" stroke-linejoin="round" transform="translate(153.00,110.00) rotate(270.0) scale(1.053)"/>
<path d="M0,-7.6 C1.1,-7.6 1.75,-6.7 1.75,-5.7 L1.2,-4.7 L1.2,6.9 Q1.2,7.6 0,7.6 Q-1.2,7.6 -1.2,6.9 L-1.2,-4.7 L-1.75,-5.7 C-1.75,-6.7 -1.1,-7.6 0,-7.6 Z" fill="#111" stroke="#111" stroke-width="0.35" stroke-linejoin="round" transform="translate(319.00,110.50) rotate(270.0) scale(1.053)"/>
<path d="M0,-7.6 C1.1,-7.6 1.75,-6.7 1.75,-5.7 L1.2,-4.7 L1.2,6.9 Q1.2,7.6 0,7.6 Q-1.2,7.6 -1.2,6.9 L-1.2,-4.7 L-1.75,-5.7 C-1.75,-6.7 -1.1,-7.6 0,-7.6 Z" fill="#111" stroke="#111" stroke-width="0.35" stroke-linejoin="round" transform="translate(385.50,110.80) rotate(270.0) scale(1.118)"/>
<line x1="150" y1="88.3" x2="396" y2="88.3" stroke="#7a7a7a" stroke-width="1.25" stroke-dasharray="4.8 2.3"/>
<line x1="143" y1="117" x2="412" y2="117" stroke="#7a7a7a" stroke-width="1.25" stroke-dasharray="4.8 2.3"/>
<text x="243.5" y="109" font-size="10.5" font-weight="bold" text-anchor="middle" dominant-baseline="central" fill="#1a1a1a" textLength="77" lengthAdjust="spacingAndGlyphs">Persiaran Kerjaya</text>
<path d="M0,-7.6 C1.1,-7.6 1.75,-6.7 1.75,-5.7 L1.2,-4.7 L1.2,6.9 Q1.2,7.6 0,7.6 Q-1.2,7.6 -1.2,6.9 L-1.2,-4.7 L-1.75,-5.7 C-1.75,-6.7 -1.1,-7.6 0,-7.6 Z" fill="#05a03c" stroke="#05a03c" stroke-width="0.35" stroke-linejoin="round" transform="translate(154.50,122.80) rotate(270.0) scale(1.118)"/>
<path d="M0,-7.6 C1.1,-7.6 1.75,-6.7 1.75,-5.7 L1.2,-4.7 L1.2,6.9 Q1.2,7.6 0,7.6 Q-1.2,7.6 -1.2,6.9 L-1.2,-4.7 L-1.75,-5.7 C-1.75,-6.7 -1.1,-7.6 0,-7.6 Z" fill="#05a03c" stroke="#05a03c" stroke-width="0.35" stroke-linejoin="round" transform="translate(240.75,124.80) rotate(270.0) scale(1.125)"/>
<path d="M0,-7.6 C1.1,-7.6 1.75,-6.7 1.75,-5.7 L1.2,-4.7 L1.2,6.9 Q1.2,7.6 0,7.6 Q-1.2,7.6 -1.2,6.9 L-1.2,-4.7 L-1.75,-5.7 C-1.75,-6.7 -1.1,-7.6 0,-7.6 Z" fill="#05a03c" stroke="#05a03c" stroke-width="0.35" stroke-linejoin="round" transform="translate(318.00,124.50) rotate(270.0) scale(1.053)"/>
<path d="M0,-7.6 C1.1,-7.6 1.75,-6.7 1.75,-5.7 L1.2,-4.7 L1.2,6.9 Q1.2,7.6 0,7.6 Q-1.2,7.6 -1.2,6.9 L-1.2,-4.7 L-1.75,-5.7 C-1.75,-6.7 -1.1,-7.6 0,-7.6 Z" fill="#111" stroke="#111" stroke-width="0.35" stroke-linejoin="round" transform="translate(385.50,123.60) rotate(270.0) scale(1.118)"/>
<path d="M356,128 L359,128 Q361.5,128 361.5,131 L361.5,139.5" stroke="#05a03c" stroke-width="2.6" fill="none"/>
<path d="M352.3,128 L356.8,125.3 L356.8,130.7 Z" fill="#05a03c"/>
<text x="176.5" y="142.4" font-size="7.5" font-weight="normal" text-anchor="middle" dominant-baseline="central" fill="#1a1a1a" stroke="#1a1a1a" stroke-width="0.35" textLength="48.5" lengthAdjust="spacingAndGlyphs">To Shah Alam</text>
<polygon points="134.4,162.2 141.2,155.9 222.0,155.9 222.0,192.2 134.4,192.2" stroke="#7a7a7a" stroke-width="1.0" fill="none" stroke-linejoin="miter"/>
<text x="179" y="173.9" font-size="10.5" font-weight="bold" text-anchor="middle" dominant-baseline="central" fill="#1a1a1a" textLength="49" lengthAdjust="spacingAndGlyphs">TOP SPEED</text>
<text x="231.5" y="192.6" font-size="9.5" font-weight="bold" text-anchor="middle" dominant-baseline="central" fill="#1a1a1a" textLength="99" lengthAdjust="spacingAndGlyphs" transform="rotate(-90 231.5 192.6)">Jalan Pentadbir U1/30</text>
<path d="M0,-7.6 C1.1,-7.6 1.75,-6.7 1.75,-5.7 L1.2,-4.7 L1.2,6.9 Q1.2,7.6 0,7.6 Q-1.2,7.6 -1.2,6.9 L-1.2,-4.7 L-1.75,-5.7 C-1.75,-6.7 -1.1,-7.6 0,-7.6 Z" fill="#111" stroke="#111" stroke-width="0.35" stroke-linejoin="round" transform="translate(246.80,151.10) rotate(0.0) scale(1.013)"/>
<path d="M0,-7.6 C1.1,-7.6 1.75,-6.7 1.75,-5.7 L1.2,-4.7 L1.2,6.9 Q1.2,7.6 0,7.6 Q-1.2,7.6 -1.2,6.9 L-1.2,-4.7 L-1.75,-5.7 C-1.75,-6.7 -1.1,-7.6 0,-7.6 Z" fill="#111" stroke="#111" stroke-width="0.35" stroke-linejoin="round" transform="translate(246.80,202.00) rotate(0.0) scale(1.053)"/>
<path d="M252.9,248 L252.9,135.3 L355.5,135.3 L355.5,252.4" stroke="#7a7a7a" stroke-width="1.25" fill="none"/>
<rect x="280.2" y="146" width="53.3" height="42.3" fill="none" stroke="#7a7a7a" stroke-width="1.0"/>
<text x="305.4" y="160.6" font-size="10.3" font-weight="bold" text-anchor="middle" dominant-baseline="central" fill="#1a1a1a" textLength="18.4" lengthAdjust="spacingAndGlyphs">POS</text>
<text x="306.2" y="173.7" font-size="10.3" font-weight="bold" text-anchor="middle" dominant-baseline="central" fill="#1a1a1a" textLength="22" lengthAdjust="spacingAndGlyphs">LAJU</text>
<text x="349.3" y="189.8" font-size="9.5" font-weight="bold" text-anchor="middle" dominant-baseline="central" fill="#1a1a1a" textLength="90.4" lengthAdjust="spacingAndGlyphs" transform="rotate(-90 349.3 189.8)">Jalan Pegawai U1/33</text>
<path d="M0,-7.6 C1.1,-7.6 1.75,-6.7 1.75,-5.7 L1.2,-4.7 L1.2,6.9 Q1.2,7.6 0,7.6 Q-1.2,7.6 -1.2,6.9 L-1.2,-4.7 L-1.75,-5.7 C-1.75,-6.7 -1.1,-7.6 0,-7.6 Z" fill="#111" stroke="#111" stroke-width="0.35" stroke-linejoin="round" transform="translate(363.30,163.25) rotate(0.0) scale(0.993)"/>
<path d="M0,-7.6 C1.1,-7.6 1.75,-6.7 1.75,-5.7 L1.2,-4.7 L1.2,6.9 Q1.2,7.6 0,7.6 Q-1.2,7.6 -1.2,6.9 L-1.2,-4.7 L-1.75,-5.7 C-1.75,-6.7 -1.1,-7.6 0,-7.6 Z" fill="#111" stroke="#111" stroke-width="0.35" stroke-linejoin="round" transform="translate(363.30,213.80) rotate(0.0) scale(1.053)"/>
<path d="M0,-7.6 C1.1,-7.6 1.75,-6.7 1.75,-5.7 L1.2,-4.7 L1.2,6.9 Q1.2,7.6 0,7.6 Q-1.2,7.6 -1.2,6.9 L-1.2,-4.7 L-1.75,-5.7 C-1.75,-6.7 -1.1,-7.6 0,-7.6 Z" fill="#111" stroke="#111" stroke-width="0.35" stroke-linejoin="round" transform="translate(376.40,163.25) rotate(180.0) scale(0.993)"/>
<path d="M0,-7.6 C1.1,-7.6 1.75,-6.7 1.75,-5.7 L1.2,-4.7 L1.2,6.9 Q1.2,7.6 0,7.6 Q-1.2,7.6 -1.2,6.9 L-1.2,-4.7 L-1.75,-5.7 C-1.75,-6.7 -1.1,-7.6 0,-7.6 Z" fill="#111" stroke="#111" stroke-width="0.35" stroke-linejoin="round" transform="translate(376.40,213.80) rotate(180.0) scale(1.053)"/>
<line x1="369.7" y1="136" x2="369.7" y2="251" stroke="#7a7a7a" stroke-width="1.25" stroke-dasharray="4.8 2.3"/>
<path d="M383.1,252.4 L383.1,150.6 L493.5,150.6 L493.5,252.4" stroke="#7a7a7a" stroke-width="1.25" fill="none"/>
<line x1="383.6" y1="135.6" x2="493.3" y2="135.6" stroke="#7a7a7a" stroke-width="1.25"/>
<line x1="385" y1="143.4" x2="491" y2="143.4" stroke="#7a7a7a" stroke-width="1.25" stroke-dasharray="4.8 2.3"/>
<path d="M0,-7.6 C1.1,-7.6 1.75,-6.7 1.75,-5.7 L1.2,-4.7 L1.2,6.9 Q1.2,7.6 0,7.6 Q-1.2,7.6 -1.2,6.9 L-1.2,-4.7 L-1.75,-5.7 C-1.75,-6.7 -1.1,-7.6 0,-7.6 Z" fill="#111" stroke="#111" stroke-width="0.35" stroke-linejoin="round" transform="translate(404.00,139.50) rotate(90.0) scale(1.053)"/>
<path d="M0,-7.6 C1.1,-7.6 1.75,-6.7 1.75,-5.7 L1.2,-4.7 L1.2,6.9 Q1.2,7.6 0,7.6 Q-1.2,7.6 -1.2,6.9 L-1.2,-4.7 L-1.75,-5.7 C-1.75,-6.7 -1.1,-7.6 0,-7.6 Z" fill="#111" stroke="#111" stroke-width="0.35" stroke-linejoin="round" transform="translate(469.50,139.50) rotate(90.0) scale(1.013)"/>
<path d="M0,-7.6 C1.1,-7.6 1.75,-6.7 1.75,-5.7 L1.2,-4.7 L1.2,6.9 Q1.2,7.6 0,7.6 Q-1.2,7.6 -1.2,6.9 L-1.2,-4.7 L-1.75,-5.7 C-1.75,-6.7 -1.1,-7.6 0,-7.6 Z" fill="#05a03c" stroke="#05a03c" stroke-width="0.35" stroke-linejoin="round" transform="translate(404.00,147.20) rotate(270.0) scale(1.053)"/>
<path d="M0,-7.6 C1.1,-7.6 1.75,-6.7 1.75,-5.7 L1.2,-4.7 L1.2,6.9 Q1.2,7.6 0,7.6 Q-1.2,7.6 -1.2,6.9 L-1.2,-4.7 L-1.75,-5.7 C-1.75,-6.7 -1.1,-7.6 0,-7.6 Z" fill="#05a03c" stroke="#05a03c" stroke-width="0.35" stroke-linejoin="round" transform="translate(469.50,147.20) rotate(270.0) scale(0.987)"/>
<text x="438.7" y="157.5" font-size="10" font-weight="bold" text-anchor="middle" dominant-baseline="central" fill="#1a1a1a" textLength="92.5" lengthAdjust="spacingAndGlyphs">Jalan Peniaga U1/34</text>
<rect x="427" y="174" width="55" height="37" fill="none" stroke="#7a7a7a" stroke-width="1.0"/>
<text x="453.5" y="186" font-size="10.3" font-weight="bold" text-anchor="middle" dominant-baseline="central" fill="#1a1a1a" textLength="29.5" lengthAdjust="spacingAndGlyphs">HOTEL</text>
<text x="437.5" y="199" font-size="10.3" font-weight="bold" dominant-baseline="central" fill="#1a1a1a">1<tspan font-size="5.5" dy="-2.8">ST</tspan><tspan dy="2.8"> INN</tspan></text>
<text x="403.3" y="66.7" font-size="9.5" font-weight="bold" text-anchor="start" dominant-baseline="central" fill="#1a1a1a" textLength="72" lengthAdjust="spacingAndGlyphs" transform="rotate(-90 403.3 66.7)">Jalan Kontraktor</text>
<line x1="422.8" y1="0" x2="422.8" y2="72" stroke="#7a7a7a" stroke-width="1.25" stroke-dasharray="4.8 2.3"/>
<line x1="430.6" y1="0" x2="430.6" y2="72" stroke="#5a5a5a" stroke-width="1.8"/>
<line x1="439.6" y1="0" x2="439.6" y2="72" stroke="#7a7a7a" stroke-width="1.25" stroke-dasharray="4.8 2.3"/>
<path d="M0,-7.6 C1.1,-7.6 1.75,-6.7 1.75,-5.7 L1.2,-4.7 L1.2,6.9 Q1.2,7.6 0,7.6 Q-1.2,7.6 -1.2,6.9 L-1.2,-4.7 L-1.75,-5.7 C-1.75,-6.7 -1.1,-7.6 0,-7.6 Z" fill="#111" stroke="#111" stroke-width="0.35" stroke-linejoin="round" transform="translate(418.80,-1.00) rotate(0.0) scale(0.987)"/>
<path d="M0,-7.6 C1.1,-7.6 1.75,-6.7 1.75,-5.7 L1.2,-4.7 L1.2,6.9 Q1.2,7.6 0,7.6 Q-1.2,7.6 -1.2,6.9 L-1.2,-4.7 L-1.75,-5.7 C-1.75,-6.7 -1.1,-7.6 0,-7.6 Z" fill="#111" stroke="#111" stroke-width="0.35" stroke-linejoin="round" transform="translate(418.80,56.50) rotate(0.0) scale(0.987)"/>
<path d="M0,-7.6 C1.1,-7.6 1.75,-6.7 1.75,-5.7 L1.2,-4.7 L1.2,6.9 Q1.2,7.6 0,7.6 Q-1.2,7.6 -1.2,6.9 L-1.2,-4.7 L-1.75,-5.7 C-1.75,-6.7 -1.1,-7.6 0,-7.6 Z" fill="#111" stroke="#111" stroke-width="0.35" stroke-linejoin="round" transform="translate(427.00,-1.00) rotate(0.0) scale(0.987)"/>
<path d="M0,-7.6 C1.1,-7.6 1.75,-6.7 1.75,-5.7 L1.2,-4.7 L1.2,6.9 Q1.2,7.6 0,7.6 Q-1.2,7.6 -1.2,6.9 L-1.2,-4.7 L-1.75,-5.7 C-1.75,-6.7 -1.1,-7.6 0,-7.6 Z" fill="#111" stroke="#111" stroke-width="0.35" stroke-linejoin="round" transform="translate(427.00,56.50) rotate(0.0) scale(0.987)"/>
<path d="M0,-7.6 C1.1,-7.6 1.75,-6.7 1.75,-5.7 L1.2,-4.7 L1.2,6.9 Q1.2,7.6 0,7.6 Q-1.2,7.6 -1.2,6.9 L-1.2,-4.7 L-1.75,-5.7 C-1.75,-6.7 -1.1,-7.6 0,-7.6 Z" fill="#111" stroke="#111" stroke-width="0.35" stroke-linejoin="round" transform="translate(435.50,-1.00) rotate(180.0) scale(0.987)"/>
<path d="M0,-7.6 C1.1,-7.6 1.75,-6.7 1.75,-5.7 L1.2,-4.7 L1.2,6.9 Q1.2,7.6 0,7.6 Q-1.2,7.6 -1.2,6.9 L-1.2,-4.7 L-1.75,-5.7 C-1.75,-6.7 -1.1,-7.6 0,-7.6 Z" fill="#111" stroke="#111" stroke-width="0.35" stroke-linejoin="round" transform="translate(435.50,56.50) rotate(180.0) scale(0.987)"/>
<path d="M0,-7.6 C1.1,-7.6 1.75,-6.7 1.75,-5.7 L1.2,-4.7 L1.2,6.9 Q1.2,7.6 0,7.6 Q-1.2,7.6 -1.2,6.9 L-1.2,-4.7 L-1.75,-5.7 C-1.75,-6.7 -1.1,-7.6 0,-7.6 Z" fill="#111" stroke="#111" stroke-width="0.35" stroke-linejoin="round" transform="translate(443.90,-1.00) rotate(180.0) scale(0.987)"/>
<path d="M0,-7.6 C1.1,-7.6 1.75,-6.7 1.75,-5.7 L1.2,-4.7 L1.2,6.9 Q1.2,7.6 0,7.6 Q-1.2,7.6 -1.2,6.9 L-1.2,-4.7 L-1.75,-5.7 C-1.75,-6.7 -1.1,-7.6 0,-7.6 Z" fill="#111" stroke="#111" stroke-width="0.35" stroke-linejoin="round" transform="translate(443.90,56.50) rotate(180.0) scale(0.987)"/>
<path d="M449.2,0 L449.2,60.7 L628,60.7 L628,0" stroke="#7a7a7a" stroke-width="1.25" fill="none"/>
<rect x="455.5" y="14.5" width="77.5" height="38.5" fill="none" stroke="#7a7a7a" stroke-width="1.0"/>
<text x="494" y="28" font-size="10" font-weight="bold" text-anchor="middle" dominant-baseline="central" fill="#1a1a1a" textLength="61" lengthAdjust="spacingAndGlyphs">YAMAXI NEW</text>
<text x="494" y="40" font-size="10" font-weight="bold" text-anchor="middle" dominant-baseline="central" fill="#1a1a1a" textLength="36.5" lengthAdjust="spacingAndGlyphs">ENERGY</text>
<rect x="546" y="21" width="52" height="33" fill="none" stroke="#7a7a7a" stroke-width="1.0"/>
<text x="572" y="37.5" font-size="10" font-weight="bold" text-anchor="middle" dominant-baseline="central" fill="#1a1a1a" textLength="27" lengthAdjust="spacingAndGlyphs">CIMB</text>
<text x="544.5" y="67.2" font-size="10.5" font-weight="bold" text-anchor="middle" dominant-baseline="central" fill="#1a1a1a" textLength="103.5" lengthAdjust="spacingAndGlyphs">Jalan Pensyarah U1/28</text>
<rect x="446.6" y="95.4" width="7.40" height="13.10" fill="#2a2a2a" rx="0.8"/>
<circle cx="450.30" cy="99.07" r="2.52" fill="#33b24a"/>
<circle cx="450.30" cy="104.83" r="2.52" fill="#e8232a"/>
<text x="621.3" y="62.5" font-size="9.5" font-weight="bold" text-anchor="start" dominant-baseline="central" fill="#1a1a1a" textLength="86" lengthAdjust="spacingAndGlyphs" transform="rotate(-90 621.3 62.5)">Jalan Dekan U1/25</text>
<path d="M0,-7.6 C1.1,-7.6 1.75,-6.7 1.75,-5.7 L1.2,-4.7 L1.2,6.9 Q1.2,7.6 0,7.6 Q-1.2,7.6 -1.2,6.9 L-1.2,-4.7 L-1.75,-5.7 C-1.75,-6.7 -1.1,-7.6 0,-7.6 Z" fill="#111" stroke="#111" stroke-width="0.35" stroke-linejoin="round" transform="translate(635.30,21.55) rotate(0.0) scale(0.941)"/>
<path d="M641,0 L641,60 L657.3,60" stroke="#7a7a7a" stroke-width="1.25" fill="none"/>
<line x1="657.3" y1="0" x2="657.3" y2="105.2" stroke="#7a7a7a" stroke-width="1.25"/>
<line x1="667.2" y1="0" x2="667.2" y2="71" stroke="#7a7a7a" stroke-width="1.25" stroke-dasharray="4.8 2.3"/>
<line x1="678.5" y1="0" x2="678.5" y2="60.3" stroke="#5a5a5a" stroke-width="1.8"/>
<line x1="690.3" y1="0" x2="690.3" y2="71" stroke="#7a7a7a" stroke-width="1.25" stroke-dasharray="4.8 2.3"/>
<path d="M0,-7.6 C1.1,-7.6 1.75,-6.7 1.75,-5.7 L1.2,-4.7 L1.2,6.9 Q1.2,7.6 0,7.6 Q-1.2,7.6 -1.2,6.9 L-1.2,-4.7 L-1.75,-5.7 C-1.75,-6.7 -1.1,-7.6 0,-7.6 Z" fill="#111" stroke="#111" stroke-width="0.35" stroke-linejoin="round" transform="translate(662.50,-2.00) rotate(0.0) scale(0.987)"/>
<path d="M0,-7.6 C1.1,-7.6 1.75,-6.7 1.75,-5.7 L1.2,-4.7 L1.2,6.9 Q1.2,7.6 0,7.6 Q-1.2,7.6 -1.2,6.9 L-1.2,-4.7 L-1.75,-5.7 C-1.75,-6.7 -1.1,-7.6 0,-7.6 Z" fill="#111" stroke="#111" stroke-width="0.35" stroke-linejoin="round" transform="translate(662.50,32.00) rotate(0.0) scale(1.053)"/>
<path d="M0,-7.6 C1.1,-7.6 1.75,-6.7 1.75,-5.7 L1.2,-4.7 L1.2,6.9 Q1.2,7.6 0,7.6 Q-1.2,7.6 -1.2,6.9 L-1.2,-4.7 L-1.75,-5.7 C-1.75,-6.7 -1.1,-7.6 0,-7.6 Z" fill="#111" stroke="#111" stroke-width="0.35" stroke-linejoin="round" transform="translate(672.50,-2.00) rotate(0.0) scale(0.987)"/>
<path d="M0,-7.6 C1.1,-7.6 1.75,-6.7 1.75,-5.7 L1.2,-4.7 L1.2,6.9 Q1.2,7.6 0,7.6 Q-1.2,7.6 -1.2,6.9 L-1.2,-4.7 L-1.75,-5.7 C-1.75,-6.7 -1.1,-7.6 0,-7.6 Z" fill="#111" stroke="#111" stroke-width="0.35" stroke-linejoin="round" transform="translate(672.50,32.00) rotate(0.0) scale(1.053)"/>
<path d="M0,-7.6 C1.1,-7.6 1.75,-6.7 1.75,-5.7 L1.2,-4.7 L1.2,6.9 Q1.2,7.6 0,7.6 Q-1.2,7.6 -1.2,6.9 L-1.2,-4.7 L-1.75,-5.7 C-1.75,-6.7 -1.1,-7.6 0,-7.6 Z" fill="#111" stroke="#111" stroke-width="0.35" stroke-linejoin="round" transform="translate(686.00,-2.00) rotate(180.0) scale(0.987)"/>
<path d="M0,-7.6 C1.1,-7.6 1.75,-6.7 1.75,-5.7 L1.2,-4.7 L1.2,6.9 Q1.2,7.6 0,7.6 Q-1.2,7.6 -1.2,6.9 L-1.2,-4.7 L-1.75,-5.7 C-1.75,-6.7 -1.1,-7.6 0,-7.6 Z" fill="#111" stroke="#111" stroke-width="0.35" stroke-linejoin="round" transform="translate(686.00,32.00) rotate(180.0) scale(1.053)"/>
<path d="M0,-7.6 C1.1,-7.6 1.75,-6.7 1.75,-5.7 L1.2,-4.7 L1.2,6.9 Q1.2,7.6 0,7.6 Q-1.2,7.6 -1.2,6.9 L-1.2,-4.7 L-1.75,-5.7 C-1.75,-6.7 -1.1,-7.6 0,-7.6 Z" fill="#111" stroke="#111" stroke-width="0.35" stroke-linejoin="round" transform="translate(695.00,-2.00) rotate(180.0) scale(0.987)"/>
<path d="M0,-7.6 C1.1,-7.6 1.75,-6.7 1.75,-5.7 L1.2,-4.7 L1.2,6.9 Q1.2,7.6 0,7.6 Q-1.2,7.6 -1.2,6.9 L-1.2,-4.7 L-1.75,-5.7 C-1.75,-6.7 -1.1,-7.6 0,-7.6 Z" fill="#111" stroke="#111" stroke-width="0.35" stroke-linejoin="round" transform="translate(695.00,32.00) rotate(180.0) scale(1.053)"/>
<rect x="674.6" y="60.3" width="7.00" height="11.70" fill="#2a2a2a" rx="0.8"/>
<circle cx="678.10" cy="63.58" r="2.38" fill="#33b24a"/>
<circle cx="678.10" cy="68.72" r="2.38" fill="#e8232a"/>
<path d="M700.3,0 L700.3,73.3 L777.5,73.3" stroke="#7a7a7a" stroke-width="1.25" fill="none"/>
<text x="709" y="52" font-size="9.5" font-weight="bold" text-anchor="end" dominant-baseline="central" fill="#1a1a1a" transform="rotate(90 709 52)">Jalan Hakim U1/24</text>
<text x="728.8" y="66.2" font-size="7.5" font-weight="normal" text-anchor="middle" dominant-baseline="central" fill="#1a1a1a" stroke="#1a1a1a" stroke-width="0.35" textLength="48.8" lengthAdjust="spacingAndGlyphs">To Subang/KL</text>
<path d="M0,-7.6 C1.1,-7.6 1.75,-6.7 1.75,-5.7 L1.2,-4.7 L1.2,6.9 Q1.2,7.6 0,7.6 Q-1.2,7.6 -1.2,6.9 L-1.2,-4.7 L-1.75,-5.7 C-1.75,-6.7 -1.1,-7.6 0,-7.6 Z" fill="#111" stroke="#111" stroke-width="0.35" stroke-linejoin="round" transform="translate(737.50,81.50) rotate(90.0) scale(1.118)"/>
<path d="M0,-7.6 C1.1,-7.6 1.75,-6.7 1.75,-5.7 L1.2,-4.7 L1.2,6.9 Q1.2,7.6 0,7.6 Q-1.2,7.6 -1.2,6.9 L-1.2,-4.7 L-1.75,-5.7 C-1.75,-6.7 -1.1,-7.6 0,-7.6 Z" fill="#111" stroke="#111" stroke-width="0.35" stroke-linejoin="round" transform="translate(737.50,95.60) rotate(90.0) scale(1.118)"/>
<line x1="705.3" y1="86.7" x2="777.5" y2="86.7" stroke="#7a7a7a" stroke-width="1.25" stroke-dasharray="4.8 2.3"/>
<rect x="699.6" y="96.4" width="7.20" height="11.90" fill="#2a2a2a" rx="0.8"/>
<circle cx="703.20" cy="99.73" r="2.45" fill="#33b24a"/>
<circle cx="703.20" cy="104.97" r="2.45" fill="#e8232a"/>
<rect x="652.6" y="95" width="6.80" height="12.10" fill="#2a2a2a" rx="0.8"/>
<circle cx="656.00" cy="98.39" r="2.31" fill="#33b24a"/>
<circle cx="656.00" cy="103.71" r="2.31" fill="#e8232a"/>
<path d="M0,-7.6 C1.1,-7.6 1.75,-6.7 1.75,-5.7 L1.2,-4.7 L1.2,6.9 Q1.2,7.6 0,7.6 Q-1.2,7.6 -1.2,6.9 L-1.2,-4.7 L-1.75,-5.7 C-1.75,-6.7 -1.1,-7.6 0,-7.6 Z" fill="#111" stroke="#111" stroke-width="0.35" stroke-linejoin="round" transform="translate(574.50,113.90) rotate(270.0) scale(1.118)"/>
<path d="M0,-7.6 C1.1,-7.6 1.75,-6.7 1.75,-5.7 L1.2,-4.7 L1.2,6.9 Q1.2,7.6 0,7.6 Q-1.2,7.6 -1.2,6.9 L-1.2,-4.7 L-1.75,-5.7 C-1.75,-6.7 -1.1,-7.6 0,-7.6 Z" fill="#111" stroke="#111" stroke-width="0.35" stroke-linejoin="round" transform="translate(640.00,113.90) rotate(270.0) scale(1.053)"/>
<path d="M0,-7.6 C1.1,-7.6 1.75,-6.7 1.75,-5.7 L1.2,-4.7 L1.2,6.9 Q1.2,7.6 0,7.6 Q-1.2,7.6 -1.2,6.9 L-1.2,-4.7 L-1.75,-5.7 C-1.75,-6.7 -1.1,-7.6 0,-7.6 Z" fill="#111" stroke="#111" stroke-width="0.35" stroke-linejoin="round" transform="translate(737.50,113.90) rotate(270.0) scale(1.118)"/>
<line x1="500" y1="119.5" x2="651.7" y2="119.5" stroke="#7a7a7a" stroke-width="1.25" stroke-dasharray="4.8 2.3"/>
<line x1="706" y1="119.5" x2="777.5" y2="119.5" stroke="#7a7a7a" stroke-width="1.25" stroke-dasharray="4.8 2.3"/>
<path d="M0,-7.6 C1.1,-7.6 1.75,-6.7 1.75,-5.7 L1.2,-4.7 L1.2,6.9 Q1.2,7.6 0,7.6 Q-1.2,7.6 -1.2,6.9 L-1.2,-4.7 L-1.75,-5.7 C-1.75,-6.7 -1.1,-7.6 0,-7.6 Z" fill="#111" stroke="#111" stroke-width="0.35" stroke-linejoin="round" transform="translate(574.50,125.50) rotate(270.0) scale(1.118)"/>
<path d="M0,-7.6 C1.1,-7.6 1.75,-6.7 1.75,-5.7 L1.2,-4.7 L1.2,6.9 Q1.2,7.6 0,7.6 Q-1.2,7.6 -1.2,6.9 L-1.2,-4.7 L-1.75,-5.7 C-1.75,-6.7 -1.1,-7.6 0,-7.6 Z" fill="#111" stroke="#111" stroke-width="0.35" stroke-linejoin="round" transform="translate(640.00,125.50) rotate(270.0) scale(1.053)"/>
<path d="M0,-7.6 C1.1,-7.6 1.75,-6.7 1.75,-5.7 L1.2,-4.7 L1.2,6.9 Q1.2,7.6 0,7.6 Q-1.2,7.6 -1.2,6.9 L-1.2,-4.7 L-1.75,-5.7 C-1.75,-6.7 -1.1,-7.6 0,-7.6 Z" fill="#111" stroke="#111" stroke-width="0.35" stroke-linejoin="round" transform="translate(739.25,125.50) rotate(270.0) scale(1.086)"/>
<path d="M540.5,121 L553.5,114.3" stroke="#05a03c" stroke-width="2.4" fill="none"/>
<path d="M515.5,133.5 C518,126.5 524,124 530,126.5" stroke="#05a03c" stroke-width="3.6" fill="none" stroke-linecap="round"/>
<path d="M512.8,137.5 L511.8,131.8 L519.2,134.6 Z" fill="#05a03c" stroke="#05a03c" stroke-width="0.9" stroke-linejoin="round"/>
<line x1="508" y1="135.6" x2="508" y2="252" stroke="#7a7a7a" stroke-width="1.25" stroke-dasharray="4.8 2.3"/>
<path d="M0,-7.6 C1.1,-7.6 1.75,-6.7 1.75,-5.7 L1.2,-4.7 L1.2,6.9 Q1.2,7.6 0,7.6 Q-1.2,7.6 -1.2,6.9 L-1.2,-4.7 L-1.75,-5.7 C-1.75,-6.7 -1.1,-7.6 0,-7.6 Z" fill="#111" stroke="#111" stroke-width="0.35" stroke-linejoin="round" transform="translate(500.00,163.00) rotate(0.0) scale(1.053)"/>
<path d="M0,-7.6 C1.1,-7.6 1.75,-6.7 1.75,-5.7 L1.2,-4.7 L1.2,6.9 Q1.2,7.6 0,7.6 Q-1.2,7.6 -1.2,6.9 L-1.2,-4.7 L-1.75,-5.7 C-1.75,-6.7 -1.1,-7.6 0,-7.6 Z" fill="#111" stroke="#111" stroke-width="0.35" stroke-linejoin="round" transform="translate(500.00,213.00) rotate(0.0) scale(1.053)"/>
<path d="M0,-7.6 C1.1,-7.6 1.75,-6.7 1.75,-5.7 L1.2,-4.7 L1.2,6.9 Q1.2,7.6 0,7.6 Q-1.2,7.6 -1.2,6.9 L-1.2,-4.7 L-1.75,-5.7 C-1.75,-6.7 -1.1,-7.6 0,-7.6 Z" fill="#111" stroke="#111" stroke-width="0.35" stroke-linejoin="round" transform="translate(514.00,163.00) rotate(180.0) scale(1.053)"/>
<path d="M0,-7.6 C1.1,-7.6 1.75,-6.7 1.75,-5.7 L1.2,-4.7 L1.2,6.9 Q1.2,7.6 0,7.6 Q-1.2,7.6 -1.2,6.9 L-1.2,-4.7 L-1.75,-5.7 C-1.75,-6.7 -1.1,-7.6 0,-7.6 Z" fill="#111" stroke="#111" stroke-width="0.35" stroke-linejoin="round" transform="translate(514.00,213.00) rotate(180.0) scale(1.053)"/>
<text x="532" y="195.6" font-size="9.5" font-weight="bold" text-anchor="middle" dominant-baseline="central" fill="#1a1a1a" textLength="108" lengthAdjust="spacingAndGlyphs" transform="rotate(-90 532 195.6)">Jalan Juruterbang U1/38</text>
<path d="M522,252.5 L522,135 L649.5,135 L657.5,142.3 L657.5,227.5 L650.50,247.60 L649.44,249.34 L648.37,251.07 L647.29,252.80 L646.21,254.52 L645.12,256.24 L644.02,257.95 L642.91,259.65 L641.79,261.35 L640.67,263.04 L639.54,264.72 L638.40,266.40 L637.25,268.07 L636.09,269.74 L634.93,271.39 L633.76,273.05 L632.58,274.69 L631.39,276.33 L630.20,277.96 L629.00,279.59 L627.79,281.21 L626.57,282.82 L625.35,284.43 L624.11,286.03 L622.87,287.63 L621.63,289.21 L620.37,290.79 L619.11,292.37 L617.84,293.93 L616.56,295.49 L615.28,297.05 L613.99,298.60 L612.69,300.14 L611.38,301.67 L610.07,303.20 L608.75,304.72 L607.42,306.23 L606.09,307.74 L604.74,309.24 L603.40,310.73 L602.04,312.22 L600.68,313.69 L599.31,315.17 L597.93,316.63 L596.55,318.09 L595.16,319.54 L593.76,320.99 L592.36,322.42 L590.95,323.85 L589.53,325.28 L588.11,326.69 L586.68,328.10 L585.24,329.51 L583.80,330.90 L582.35,332.29 L580.89,333.67 L579.43,335.04 L577.96,336.41 L576.48,337.77 L575.00,339.12 L573.51,340.46 L572.02,341.80 L570.52,343.13 L569.01,344.46 L567.50,345.77 L565.98,347.08 L564.45,348.38 L562.92,349.67 L561.38,350.96 L559.84,352.24 L558.29,353.51 L556.73,354.77 L555.17,356.03 L553.61,357.28 L552.03,358.52 L550.45,359.76 L548.87,360.98 L547.28,362.20 L545.68,363.41 L544.08,364.62 L542.47,365.81 L540.86,367.00 L539.24,368.18 L537.61,369.35 L535.98,370.52 L534.35,371.68 L532.70,372.83 L531.06,373.97 L529.40,375.10 L527.75,376.23 L526.08,377.35 L524.42,378.46 L522.74,379.56 L521.06,380.66 L519.38,381.75 L517.69,382.83 L516.00,383.90 L514.30,384.96 L512.59,386.02 L510.88,387.07 L509.17,388.11 L507.45,389.14 L505.72,390.16 L503.99,391.18 L502.26,392.19 L500.52,393.19 L498.78,394.18 L497.03,395.16 L495.27,396.14 L493.51,397.11 L491.75,398.06 L489.98,399.02 L488.21,399.96 L486.43,400.89 L484.65,401.82 L482.87,402.74 L481.08,403.65 L479.28,404.55 L477.48,405.44 L475.68,406.33 L473.87,407.20 L472.06,408.07 L470.24,408.93 L468.42,409.78 L466.59,410.63 L464.76,411.46 L462.93,412.29 L461.09,413.11 L459.25,413.91 L457.40,414.72 L455.55,415.51 L453.70,416.29 L451.84,417.07 L449.98,417.83 L448.11,418.59 L446.24,419.34 L444.37,420.08 L442.49,420.81 L440.61,421.54 L438.73,422.25 L436.84,422.96 L434.94,423.65 L433.05,424.34 L431.15,425.02 L429.24,425.69 L427.34,426.35 L425.43,427.01 L423.51,427.65 L421.60,428.29 L419.67,428.91 L417.75,429.53 L415.82,430.14 L413.89,430.74 L411.96,431.33 L410.02,431.91 L408.08,432.48 L406.14,433.05 L404.19,433.60 L402.24,434.15 L400.29,434.69 L398.33,435.21 L396.37,435.73 L394.41,436.24 L392.44,436.74 L390.47,437.23 L388.50,437.71 L386.53,438.19 L384.55,438.65 L382.57,439.10 L380.59,439.55 L378.60,439.98 L376.62,440.41 L374.63,440.83 L372.63,441.24 L370.64,441.63" stroke="#7a7a7a" stroke-width="1.25" fill="none"/>
<line x1="371.25" y1="443.1" x2="347.5" y2="371.7" stroke="#7a7a7a" stroke-width="1.25"/>
<rect x="587.6" y="143.5" width="57.4" height="35.8" fill="none" stroke="#7a7a7a" stroke-width="1.0"/>
<text x="616.9" y="161" font-size="9.8" font-weight="bold" text-anchor="middle" dominant-baseline="central" fill="#1a1a1a" textLength="26.8" lengthAdjust="spacingAndGlyphs">SHELL</text>
<line x1="667.3" y1="137.5" x2="667.3" y2="218.5" stroke="#7a7a7a" stroke-width="1.25" stroke-dasharray="4.8 2.3"/>
<line x1="690.3" y1="137.5" x2="690.3" y2="210.4" stroke="#7a7a7a" stroke-width="1.25" stroke-dasharray="4.8 2.3"/>
<line x1="679" y1="141" x2="679" y2="209" stroke="#5a5a5a" stroke-width="1.6"/>
<rect x="674.6" y="128.4" width="6.80" height="12.60" fill="#2a2a2a" rx="0.8"/>
<circle cx="678.00" cy="131.93" r="2.31" fill="#33b24a"/>
<circle cx="678.00" cy="137.47" r="2.31" fill="#e8232a"/>
<rect x="674.9" y="208.3" width="6.70" height="11.90" fill="#2a2a2a" rx="0.8"/>
<circle cx="678.25" cy="211.63" r="2.28" fill="#33b24a"/>
<circle cx="678.25" cy="216.87" r="2.28" fill="#e8232a"/>
<path d="M0,-7.6 C1.1,-7.6 1.75,-6.7 1.75,-5.7 L1.2,-4.7 L1.2,6.9 Q1.2,7.6 0,7.6 Q-1.2,7.6 -1.2,6.9 L-1.2,-4.7 L-1.75,-5.7 C-1.75,-6.7 -1.1,-7.6 0,-7.6 Z" fill="#111" stroke="#111" stroke-width="0.35" stroke-linejoin="round" transform="translate(662.00,159.30) rotate(0.0) scale(1.145)"/>
<path d="M0,-7.6 C1.1,-7.6 1.75,-6.7 1.75,-5.7 L1.2,-4.7 L1.2,6.9 Q1.2,7.6 0,7.6 Q-1.2,7.6 -1.2,6.9 L-1.2,-4.7 L-1.75,-5.7 C-1.75,-6.7 -1.1,-7.6 0,-7.6 Z" fill="#111" stroke="#111" stroke-width="0.35" stroke-linejoin="round" transform="translate(672.00,159.30) rotate(0.0) scale(1.145)"/>
<path d="M0,-7.6 C1.1,-7.6 1.75,-6.7 1.75,-5.7 L1.2,-4.7 L1.2,6.9 Q1.2,7.6 0,7.6 Q-1.2,7.6 -1.2,6.9 L-1.2,-4.7 L-1.75,-5.7 C-1.75,-6.7 -1.1,-7.6 0,-7.6 Z" fill="#111" stroke="#111" stroke-width="0.35" stroke-linejoin="round" transform="translate(686.00,159.30) rotate(180.0) scale(1.145)"/>
<path d="M0,-7.6 C1.1,-7.6 1.75,-6.7 1.75,-5.7 L1.2,-4.7 L1.2,6.9 Q1.2,7.6 0,7.6 Q-1.2,7.6 -1.2,6.9 L-1.2,-4.7 L-1.75,-5.7 C-1.75,-6.7 -1.1,-7.6 0,-7.6 Z" fill="#111" stroke="#111" stroke-width="0.35" stroke-linejoin="round" transform="translate(694.80,159.30) rotate(180.0) scale(1.145)"/>
<polygon points="664.0,236.5 675.4,232.3 670.2,219.8" stroke="#7a7a7a" stroke-width="1.0" fill="none" stroke-linejoin="miter"/>
<polygon points="695.2,206.3 705.6,208.8 701.5,219.8" stroke="#7a7a7a" stroke-width="1.0" fill="none" stroke-linejoin="miter"/>
<path d="M702.7,132.2 L767.4,132.2 L761.25,150 C756,162 752,170 746.25,176.25 L730.8,195 L708.75,201.6 L698.4,150 Z" stroke="#7a7a7a" stroke-width="1.25" fill="none"/>
<text x="728.2" y="139.5" font-size="7.5" font-weight="normal" text-anchor="middle" dominant-baseline="central" fill="#1a1a1a" stroke="#1a1a1a" stroke-width="0.35" textLength="57" lengthAdjust="spacingAndGlyphs">From Subang/KL</text>
<path d="M771.6,151.0 C769.9,154.3 765.5,164.5 761.2,170.6 C757.0,176.7 751.2,182.2 746.2,187.5 C741.2,192.8 736.4,197.8 731.2,202.5 C726.1,207.2 718.0,213.6 715.4,215.8" stroke="#7a7a7a" stroke-width="1.25" fill="none" stroke-dasharray="4.8 2.3"/>
<path d="M663.3,245 L630,278.3" stroke="#666" stroke-width="1.0" fill="none" stroke-dasharray="2.2 1.8"/>
<path d="M0,-7.6 C1.1,-7.6 1.75,-6.7 1.75,-5.7 L1.2,-4.7 L1.2,6.9 Q1.2,7.6 0,7.6 Q-1.2,7.6 -1.2,6.9 L-1.2,-4.7 L-1.75,-5.7 C-1.75,-6.7 -1.1,-7.6 0,-7.6 Z" fill="#111" stroke="#111" stroke-width="0.35" stroke-linejoin="round" transform="translate(724.77,202.30) rotate(64.4) scale(0.945)"/>
<path d="M0,-7.6 C1.1,-7.6 1.75,-6.7 1.75,-5.7 L1.2,-4.7 L1.2,6.9 Q1.2,7.6 0,7.6 Q-1.2,7.6 -1.2,6.9 L-1.2,-4.7 L-1.75,-5.7 C-1.75,-6.7 -1.1,-7.6 0,-7.6 Z" fill="#111" stroke="#111" stroke-width="0.35" stroke-linejoin="round" transform="translate(732.30,214.38) rotate(-128.0) scale(0.935)"/>
<path d="M0,-7.6 C1.1,-7.6 1.75,-6.7 1.75,-5.7 L1.2,-4.7 L1.2,6.9 Q1.2,7.6 0,7.6 Q-1.2,7.6 -1.2,6.9 L-1.2,-4.7 L-1.75,-5.7 C-1.75,-6.7 -1.1,-7.6 0,-7.6 Z" fill="#111" stroke="#111" stroke-width="0.35" stroke-linejoin="round" transform="translate(642.35,273.40) rotate(44.1) scale(0.917)"/>
<path d="M0,-7.6 C1.1,-7.6 1.75,-6.7 1.75,-5.7 L1.2,-4.7 L1.2,6.9 Q1.2,7.6 0,7.6 Q-1.2,7.6 -1.2,6.9 L-1.2,-4.7 L-1.75,-5.7 C-1.75,-6.7 -1.1,-7.6 0,-7.6 Z" fill="#111" stroke="#111" stroke-width="0.35" stroke-linejoin="round" transform="translate(650.92,281.60) rotate(-136.9) scale(0.901)"/>
<path d="M130.4,480 L130.4,366.7 Q130.4,363 133.5,362 L135.62,360.82 L137.62,360.96 L139.61,361.16 L141.57,361.42 L143.52,361.74 L145.45,362.11 L147.36,362.53 L149.26,363.01 L151.13,363.54 L153.00,364.11 L154.84,364.73 L156.67,365.40 L158.49,366.11 L160.30,366.85 L162.09,367.64 L163.86,368.47 L165.63,369.33 L167.38,370.22 L169.13,371.15 L170.86,372.11 L172.58,373.10 L174.29,374.11 L175.99,375.15 L177.68,376.21 L179.37,377.29 L181.05,378.40 L182.72,379.52 L184.38,380.65 L186.03,381.81 L187.69,382.97 L189.33,384.15 L190.97,385.33 L192.61,386.52 L194.24,387.72 L195.87,388.92 L197.49,390.13 L199.12,391.33 L200.74,392.54 L202.36,393.74 L203.98,394.95 L205.60,396.15 L207.21,397.36 L208.83,398.56 L210.44,399.76 L212.05,400.96 L213.67,402.16 L215.28,403.36 L216.89,404.56 L218.51,405.75 L220.12,406.94 L221.74,408.13 L223.35,409.32 L224.97,410.51 L226.59,411.69 L228.21,412.86 L229.84,414.04 L231.46,415.21 L233.09,416.37 L234.72,417.54 L236.35,418.69 L237.99,419.85 L239.63,421.00 L241.28,422.14 L242.92,423.28 L244.58,424.41 L246.23,425.53 L247.90,426.65 L249.56,427.77 L251.23,428.88 L252.91,429.98 L254.59,431.07 L256.28,432.16 L257.97,433.24 L259.67,434.31 L261.38,435.38 L263.09,436.43 L264.81,437.48 L266.54,438.52 L268.27,439.56 L270.01,440.58 L271.76,441.59 L273.52,442.60 L275.28,443.59 L277.06,444.57 L278.83,445.54 L280.62,446.50 L282.41,447.44 L284.21,448.37 L286.02,449.28 L287.83,450.18 L289.65,451.06 L291.48,451.92 L293.31,452.77 L295.15,453.59 L296.99,454.40 L298.84,455.18 L300.69,455.95 L302.55,456.69 L304.42,457.41 L306.29,458.10 L308.16,458.78 L310.05,459.42 L311.93,460.05 L313.82,460.64 L315.72,461.21 L317.62,461.75 L319.52,462.26 L321.43,462.74 L323.34,463.19 L325.26,463.61 L327.18,464.00 L329.10,464.36 L331.03,464.68 L332.96,464.97 L334.89,465.22 L336.83,465.44 L338.77,465.62 L340.71,465.77 L342.66,465.88 L344.61,465.95 L346.56,465.99 L348.51,465.99 L350.47,465.96 L352.43,465.90 L354.39,465.80 L356.35,465.68 L358.31,465.52 L360.28,465.34 L362.24,465.12 L364.21,464.88 L366.18,464.62 L368.15,464.33 L370.12,464.01 L372.09,463.67 L374.07,463.30 L376.04,462.92 L378.01,462.51 L379.99,462.08 L381.96,461.64 L383.93,461.17 L385.91,460.69 L387.88,460.19 L389.85,459.67 L391.83,459.14 L393.80,458.59 L395.77,458.03 L397.74,457.46 L399.71,456.88 L401.67,456.28 L403.64,455.68 L405.61,455.07 L407.57,454.44 L409.53,453.82 L411.49,453.18 L413.45,452.54 L415.40,451.89 L417.36,451.24 L419.31,450.59 L421.26,449.94 L423.20,449.28 L425.14,448.62 L427.08,447.97 L429.02,447.31 L430.96,446.65 L432.89,446.00 L434.81,445.34 L436.74,444.68 L438.66,444.02 L440.57,443.36 L442.49,442.69 L444.40,442.03 L446.30,441.35 L448.21,440.68 L450.10,440.00 L452.00,439.32 L453.89,438.63 L455.77,437.94 L457.65,437.24 L459.53,436.54 L461.40,435.83 L463.27,435.11 L465.13,434.39 L466.99,433.65 L468.85,432.92 L470.69,432.17 L472.54,431.41 L474.38,430.65 L476.21,429.88 L478.04,429.09 L479.86,428.30 L481.68,427.50 L483.49,426.68 L485.30,425.86 L487.10,425.02 L488.90,424.17 L490.69,423.31 L492.47,422.44 L494.25,421.56 L496.02,420.67 L497.79,419.76 L499.55,418.85 L501.31,417.93 L503.06,416.99 L504.81,416.05 L506.55,415.09 L508.28,414.12 L510.02,413.15 L511.74,412.16 L513.46,411.17 L515.18,410.16 L516.89,409.15 L518.59,408.13 L520.29,407.09 L521.98,406.05 L523.67,405.00 L525.36,403.94 L527.04,402.87 L528.71,401.79 L530.38,400.70 L532.05,399.61 L533.71,398.50 L535.36,397.39 L537.01,396.27 L538.66,395.14 L540.30,394.00 L541.93,392.85 L543.56,391.70 L545.19,390.54 L546.81,389.37 L548.43,388.19 L550.04,387.01 L551.65,385.82 L553.25,384.62 L554.85,383.41 L556.45,382.20 L558.04,380.98 L559.62,379.76 L561.20,378.52 L562.78,377.28 L564.35,376.04 L565.92,374.78 L567.49,373.52 L569.05,372.26 L570.60,370.99 L572.15,369.71 L573.70,368.43 L575.24,367.14 L576.78,365.84 L578.31,364.54 L579.84,363.23 L581.37,361.92 L582.89,360.61 L584.41,359.28 L585.93,357.96 L587.44,356.63 L588.94,355.29 L590.45,353.95 L591.94,352.60 L593.44,351.25 L594.93,349.90 L596.42,348.54 L597.90,347.18 L599.38,345.81 L600.86,344.44 L602.33,343.06 L603.80,341.68 L605.26,340.30 L606.73,338.91 L608.18,337.52 L609.64,336.13 L611.09,334.73 L612.54,333.34 L613.98,331.93 L615.42,330.53 L616.86,329.12 L618.29,327.71 L619.72,326.29 L621.15,324.88 L622.57,323.46 L623.99,322.04 L625.41,320.62 L626.83,319.19 L628.24,317.76 L629.65,316.34 L631.05,314.91 L632.45,313.47 L633.85,312.04 L635.25,310.60 L636.64,309.17 L638.03,307.73 L639.42,306.29 L640.80,304.85 L642.18,303.41 L643.56,301.97 L644.93,300.53 L646.31,299.08 L647.68,297.64 L649.05,296.20 L650.42,294.76 L651.79,293.32 L653.16,291.87 L654.53,290.44 L655.89,289.00 L657.26,287.56 L658.63,286.12 L660.00,284.69 L661.37,283.26 L662.74,281.83 L664.12,280.40 L665.49,278.98 L666.87,277.56 L668.25,276.14 L669.64,274.72 L671.02,273.31 L672.41,271.90 L673.81,270.50 L675.21,269.10 L676.61,267.70 L678.02,266.31 L679.43,264.92 L680.84,263.54 L682.27,262.16 L683.69,260.79 L685.13,259.43 L686.57,258.07 L688.01,256.71 L689.47,255.36 L690.93,254.02 L692.40,252.69 L693.87,251.36 L695.36,250.04 L696.85,248.72 L698.35,247.41 L699.86,246.12 L701.38,244.82 L702.91,243.54 L704.45,242.26 L705.99,241.00 L707.55,239.74 L709.12,238.49 L710.70,237.25 L712.29,236.02 L713.89,234.80 L715.50,233.58 L717.12,232.37 L718.74,231.16 L720.37,229.96 L722.00,228.76 L723.63,227.57 L725.26,226.37 L726.90,225.17 L728.53,223.97 L730.16,222.77 L731.78,221.56 L733.40,220.35 L735.01,219.13 L736.61,217.90 L738.21,216.66 L739.79,215.42 L741.36,214.16 L742.92,212.89 L744.46,211.61 L745.98,210.31 L747.49,209.00 L748.98,207.67 L750.45,206.33 L751.90,204.96 L753.33,203.57 L754.73,202.17 L756.10,200.74 L757.45,199.28 L758.78,197.81 L760.07,196.30 L761.33,194.77 L762.56,193.21 L763.76,191.63 L764.92,190.01 L766.05,188.36 L767.14,186.68 L768.19,184.96 L769.21,183.21 L770.18,181.42 L771.11,179.60 L771.99,177.74 L772.84,175.84 L773.63,173.89 L774.38,171.91 L775.08,169.88 L775.73,167.81 L776.32,165.70 L776.87,163.54" stroke="#7a7a7a" stroke-width="1.25" fill="none"/>
<path d="M129.01,346.46 L130.99,346.99 L132.96,347.53 L134.92,348.10 L136.87,348.69 L138.81,349.31 L140.74,349.95 L142.66,350.60 L144.57,351.29 L146.47,351.99 L148.36,352.71 L150.25,353.45 L152.12,354.21 L153.99,355.00 L155.84,355.80 L157.69,356.61 L159.53,357.45 L161.37,358.30 L163.19,359.17 L165.01,360.06 L166.82,360.96 L168.62,361.88 L170.42,362.81 L172.21,363.76 L173.99,364.72 L175.77,365.70 L177.54,366.69 L179.31,367.69 L181.07,368.70 L182.82,369.73 L184.57,370.76 L186.32,371.81 L188.06,372.87 L189.79,373.94 L191.52,375.02 L193.25,376.10 L194.97,377.20 L196.69,378.30 L198.40,379.42 L200.11,380.53 L201.82,381.66 L203.53,382.79 L205.23,383.93 L206.93,385.08 L208.62,386.22 L210.32,387.38 L212.01,388.53 L213.70,389.70 L215.39,390.86 L217.07,392.03 L218.76,393.20 L220.44,394.37 L222.13,395.54 L223.81,396.71 L225.49,397.89 L227.17,399.06 L228.86,400.23 L230.54,401.41 L232.22,402.58 L233.90,403.75 L235.59,404.92 L237.27,406.08 L238.95,407.24 L240.64,408.40 L242.33,409.55 L244.02,410.70 L245.71,411.84 L247.40,412.98 L249.10,414.12 L250.80,415.24 L252.50,416.36 L254.20,417.47 L255.91,418.58 L257.62,419.67 L259.33,420.76 L261.04,421.84 L262.77,422.91 L264.49,423.97 L266.22,425.01 L267.95,426.05 L269.69,427.08 L271.43,428.09 L273.18,429.09 L274.93,430.08 L276.69,431.06 L278.45,432.02 L280.22,432.97 L282.00,433.90 L283.78,434.82 L285.56,435.72 L287.36,436.61 L289.16,437.48 L290.97,438.34 L292.78,439.17 L294.60,439.99 L296.43,440.79 L298.27,441.57 L300.12,442.33 L301.97,443.08 L303.83,443.80 L305.70,444.50 L307.58,445.18 L309.47,445.84 L311.37,446.48 L313.27,447.10 L315.19,447.69 L317.12,448.26 L319.05,448.81 L321.00,449.33 L322.95,449.83 L324.92,450.30 L326.90,450.75 L328.88,451.17 L330.88,451.56 L332.89,451.93 L334.92,452.27 L336.95,452.58 L339.00,452.87 L341.05,453.12 L343.12,453.35 L345.20,453.54 L347.30,453.71 L349.41,453.85" stroke="#7a7a7a" stroke-width="1.25" fill="none" stroke-dasharray="4.8 2.3"/>
<path d="M372.36,451.02 L374.38,450.63 L376.41,450.24 L378.43,449.83 L380.44,449.41 L382.46,448.99 L384.47,448.55 L386.47,448.11 L388.47,447.65 L390.47,447.19 L392.46,446.71 L394.46,446.23 L396.44,445.73 L398.42,445.23 L400.40,444.71 L402.38,444.19 L404.35,443.66 L406.32,443.11 L408.28,442.56 L410.24,442.00 L412.19,441.43 L414.15,440.85 L416.09,440.26 L418.04,439.66 L419.98,439.05 L421.91,438.43 L423.85,437.81 L425.77,437.17 L427.70,436.52 L429.62,435.87 L431.53,435.21 L433.44,434.53 L435.35,433.85 L437.26,433.16 L439.16,432.46 L441.05,431.75 L442.94,431.04 L444.83,430.31 L446.72,429.57 L448.59,428.83 L450.47,428.08 L452.34,427.32 L454.21,426.55 L456.07,425.77 L457.93,424.98 L459.78,424.18 L461.63,423.38 L463.48,422.57 L465.32,421.75 L467.16,420.92 L468.99,420.08 L470.82,419.23 L472.65,418.38 L474.47,417.51 L476.29,416.64 L478.10,415.76 L479.91,414.87 L481.71,413.98 L483.51,413.07 L485.30,412.16 L487.10,411.24 L488.88,410.31 L490.66,409.38 L492.44,408.43 L494.22,407.48 L495.98,406.52 L497.75,405.55 L499.51,404.57 L501.27,403.59 L503.02,402.60 L504.76,401.60 L506.51,400.59 L508.24,399.58 L509.98,398.56 L511.71,397.53 L513.43,396.49 L515.15,395.45 L516.87,394.39 L518.58,393.33 L520.29,392.27 L521.99,391.19 L523.68,390.11 L525.38,389.02 L527.07,387.93 L528.75,386.82 L530.43,385.71 L532.10,384.59 L533.77,383.47 L535.44,382.34 L537.10,381.20 L538.76,380.05 L540.41,378.90 L542.05,377.74 L543.70,376.57 L545.33,375.40 L546.97,374.22 L548.59,373.03 L550.22,371.83 L551.84,370.63 L553.45,369.42 L555.06,368.21 L556.66,366.99 L558.26,365.76 L559.86,364.53 L561.45,363.29 L563.03,362.04 L564.61,360.78 L566.19,359.52 L567.76,358.26 L569.32,356.98 L570.89,355.70 L572.44,354.42 L573.99,353.13 L575.54,351.83 L577.08,350.52 L578.62,349.21 L580.15,347.89 L581.67,346.57 L583.20,345.24 L584.71,343.91 L586.23,342.57 L587.73,341.22 L589.23,339.87 L590.73,338.51 L592.22,337.14 L593.71,335.77 L595.19,334.40 L596.67,333.01 L598.14,331.63 L599.61,330.23 L601.07,328.83 L602.52,327.43 L603.97,326.02 L605.42,324.60 L606.86,323.18 L608.30,321.75 L609.73,320.32 L611.15,318.88 L612.58,317.44 L613.99,315.99 L615.40,314.54 L616.81,313.08 L618.21,311.61 L619.60,310.14 L620.99,308.67 L622.37,307.19 L623.75,305.70 L625.13,304.21 L626.49,302.72 L627.86,301.22 L629.22,299.71 L630.57,298.20 L631.92,296.69 L633.26,295.17 L634.59,293.65 L635.93,292.12 L637.25,290.58 L638.57,289.04 L639.89,287.50 L641.20,285.95 L642.50,284.40 L643.80,282.84 L645.09,281.28 L646.38,279.71 L647.66,278.14 L648.94,276.57 L650.21,274.99 L651.48,273.40 L652.74,271.81 L654.00,270.22 L655.25,268.62 L656.49,267.02 L657.73,265.42 L658.96,263.81 L660.19,262.19 L661.41,260.57 L662.63,258.95 L663.84,257.33 L665.05,255.70 L666.25,254.06 L667.44,252.42" stroke="#7a7a7a" stroke-width="1.25" fill="none" stroke-dasharray="4.8 2.3"/>
<line x1="347.5" y1="442.5" x2="325.8" y2="371.7" stroke="#7a7a7a" stroke-width="1.25"/>
<path d="M0,-7.6 C1.1,-7.6 1.75,-6.7 1.75,-5.7 L1.2,-4.7 L1.2,6.9 Q1.2,7.6 0,7.6 Q-1.2,7.6 -1.2,6.9 L-1.2,-4.7 L-1.75,-5.7 C-1.75,-6.7 -1.1,-7.6 0,-7.6 Z" fill="#111" stroke="#111" stroke-width="0.35" stroke-linejoin="round" transform="translate(141.35,345.80) rotate(111.1) scale(0.952)"/>
<path d="M0,-7.6 C1.1,-7.6 1.75,-6.7 1.75,-5.7 L1.2,-4.7 L1.2,6.9 Q1.2,7.6 0,7.6 Q-1.2,7.6 -1.2,6.9 L-1.2,-4.7 L-1.75,-5.7 C-1.75,-6.7 -1.1,-7.6 0,-7.6 Z" fill="#111" stroke="#111" stroke-width="0.35" stroke-linejoin="round" transform="translate(136.40,353.35) rotate(-71.4) scale(0.972)"/>
<path d="M0,-7.6 C1.1,-7.6 1.75,-6.7 1.75,-5.7 L1.2,-4.7 L1.2,6.9 Q1.2,7.6 0,7.6 Q-1.2,7.6 -1.2,6.9 L-1.2,-4.7 L-1.75,-5.7 C-1.75,-6.7 -1.1,-7.6 0,-7.6 Z" fill="#111" stroke="#111" stroke-width="0.35" stroke-linejoin="round" transform="translate(211.85,385.65) rotate(121.0) scale(0.959)"/>
<path d="M0,-7.6 C1.1,-7.6 1.75,-6.7 1.75,-5.7 L1.2,-4.7 L1.2,6.9 Q1.2,7.6 0,7.6 Q-1.2,7.6 -1.2,6.9 L-1.2,-4.7 L-1.75,-5.7 C-1.75,-6.7 -1.1,-7.6 0,-7.6 Z" fill="#111" stroke="#111" stroke-width="0.35" stroke-linejoin="round" transform="translate(206.25,392.50) rotate(-59.0) scale(0.959)"/>
<path d="M0,-7.6 C1.1,-7.6 1.75,-6.7 1.75,-5.7 L1.2,-4.7 L1.2,6.9 Q1.2,7.6 0,7.6 Q-1.2,7.6 -1.2,6.9 L-1.2,-4.7 L-1.75,-5.7 C-1.75,-6.7 -1.1,-7.6 0,-7.6 Z" fill="#111" stroke="#111" stroke-width="0.35" stroke-linejoin="round" transform="translate(265.32,420.00) rotate(122.3) scale(0.923)"/>
<path d="M0,-7.6 C1.1,-7.6 1.75,-6.7 1.75,-5.7 L1.2,-4.7 L1.2,6.9 Q1.2,7.6 0,7.6 Q-1.2,7.6 -1.2,6.9 L-1.2,-4.7 L-1.75,-5.7 C-1.75,-6.7 -1.1,-7.6 0,-7.6 Z" fill="#111" stroke="#111" stroke-width="0.35" stroke-linejoin="round" transform="translate(261.25,429.35) rotate(-59.0) scale(0.959)"/>
<path d="M0,-7.6 C1.1,-7.6 1.75,-6.7 1.75,-5.7 L1.2,-4.7 L1.2,6.9 Q1.2,7.6 0,7.6 Q-1.2,7.6 -1.2,6.9 L-1.2,-4.7 L-1.75,-5.7 C-1.75,-6.7 -1.1,-7.6 0,-7.6 Z" fill="#111" stroke="#111" stroke-width="0.35" stroke-linejoin="round" transform="translate(337.70,447.45) rotate(93.8) scale(1.095)"/>
<path d="M0,-7.6 C1.1,-7.6 1.75,-6.7 1.75,-5.7 L1.2,-4.7 L1.2,6.9 Q1.2,7.6 0,7.6 Q-1.2,7.6 -1.2,6.9 L-1.2,-4.7 L-1.75,-5.7 C-1.75,-6.7 -1.1,-7.6 0,-7.6 Z" fill="#111" stroke="#111" stroke-width="0.35" stroke-linejoin="round" transform="translate(337.20,458.85) rotate(-80.2) scale(1.042)"/>
<path d="M0,-7.6 C1.1,-7.6 1.75,-6.7 1.75,-5.7 L1.2,-4.7 L1.2,6.9 Q1.2,7.6 0,7.6 Q-1.2,7.6 -1.2,6.9 L-1.2,-4.7 L-1.75,-5.7 C-1.75,-6.7 -1.1,-7.6 0,-7.6 Z" fill="#111" stroke="#111" stroke-width="0.35" stroke-linejoin="round" transform="translate(386.57,443.43) rotate(74.5) scale(1.069)"/>
<path d="M0,-7.6 C1.1,-7.6 1.75,-6.7 1.75,-5.7 L1.2,-4.7 L1.2,6.9 Q1.2,7.6 0,7.6 Q-1.2,7.6 -1.2,6.9 L-1.2,-4.7 L-1.75,-5.7 C-1.75,-6.7 -1.1,-7.6 0,-7.6 Z" fill="#111" stroke="#111" stroke-width="0.35" stroke-linejoin="round" transform="translate(389.40,452.20) rotate(-106.3) scale(1.028)"/>
<path d="M0,-7.6 C1.1,-7.6 1.75,-6.7 1.75,-5.7 L1.2,-4.7 L1.2,6.9 Q1.2,7.6 0,7.6 Q-1.2,7.6 -1.2,6.9 L-1.2,-4.7 L-1.75,-5.7 C-1.75,-6.7 -1.1,-7.6 0,-7.6 Z" fill="#111" stroke="#111" stroke-width="0.35" stroke-linejoin="round" transform="translate(450.60,422.50) rotate(67.5) scale(1.068)"/>
<path d="M0,-7.6 C1.1,-7.6 1.75,-6.7 1.75,-5.7 L1.2,-4.7 L1.2,6.9 Q1.2,7.6 0,7.6 Q-1.2,7.6 -1.2,6.9 L-1.2,-4.7 L-1.75,-5.7 C-1.75,-6.7 -1.1,-7.6 0,-7.6 Z" fill="#111" stroke="#111" stroke-width="0.35" stroke-linejoin="round" transform="translate(453.12,435.62) rotate(-114.4) scale(0.994)"/>
<path d="M0,-7.6 C1.1,-7.6 1.75,-6.7 1.75,-5.7 L1.2,-4.7 L1.2,6.9 Q1.2,7.6 0,7.6 Q-1.2,7.6 -1.2,6.9 L-1.2,-4.7 L-1.75,-5.7 C-1.75,-6.7 -1.1,-7.6 0,-7.6 Z" fill="#111" stroke="#111" stroke-width="0.35" stroke-linejoin="round" transform="translate(569.08,350.60) rotate(46.8) scale(0.961)"/>
<path d="M0,-7.6 C1.1,-7.6 1.75,-6.7 1.75,-5.7 L1.2,-4.7 L1.2,6.9 Q1.2,7.6 0,7.6 Q-1.2,7.6 -1.2,6.9 L-1.2,-4.7 L-1.75,-5.7 C-1.75,-6.7 -1.1,-7.6 0,-7.6 Z" fill="#111" stroke="#111" stroke-width="0.35" stroke-linejoin="round" transform="translate(573.42,360.62) rotate(-129.4) scale(0.907)"/>
<polygon points="124.2,356.2 133.0,356.2 124.7,365.1" stroke="#7a7a7a" stroke-width="1.0" fill="none" stroke-linejoin="miter"/>
<path d="M127.8,368 Q128.5,361.5 136.1,360.6" stroke="#111" stroke-width="2.8" fill="none" stroke-linecap="round"/>
<text x="347" y="405.8" font-size="10.5" font-weight="bold" text-anchor="middle" dominant-baseline="central" fill="#1a1a1a" textLength="61" lengthAdjust="spacingAndGlyphs" transform="rotate(67 347 405.8)">Jalan Mesra 1</text>
<text x="514.8" y="403" font-size="9.5" font-weight="bold" text-anchor="middle" dominant-baseline="central" fill="#1a1a1a" textLength="93" lengthAdjust="spacingAndGlyphs" transform="rotate(-31 514.8 403)">Jalan Batu Tiga Lama</text>
<rect x="194.6" y="305" width="92.1" height="53.1" fill="none" stroke="#7a7a7a" stroke-width="1.0"/>
<text x="240" y="326" font-size="10.3" font-weight="bold" text-anchor="middle" dominant-baseline="central" fill="#1a1a1a" textLength="45.5" lengthAdjust="spacingAndGlyphs">PRIMA U1</text>
<text x="240.6" y="338" font-size="10.3" font-weight="bold" text-anchor="middle" dominant-baseline="central" fill="#1a1a1a" textLength="73.8" lengthAdjust="spacingAndGlyphs">CONDOMINIUM</text>
<rect x="345.6" y="299.3" width="38.1" height="74.7" fill="none" stroke="#7a7a7a" stroke-width="1" transform="rotate(-16 364.7 336.7)"/>
<text x="370.5" y="336" font-size="10.3" font-weight="bold" text-anchor="middle" dominant-baseline="central" fill="#1a1a1a" textLength="56" lengthAdjust="spacingAndGlyphs" transform="rotate(74 370.5 336)">TANAH AINA</text>
<text x="360.2" y="339.7" font-size="10.3" font-weight="bold" text-anchor="middle" dominant-baseline="central" fill="#1a1a1a" textLength="24" lengthAdjust="spacingAndGlyphs" transform="rotate(74 360.2 339.7)">CAFE</text>
<rect x="363.9" y="384.1" width="69.8" height="35.1" fill="none" stroke="#7a7a7a" stroke-width="1" transform="rotate(-17 398.8 401.7)"/>
<text x="395.5" y="395.5" font-size="10.3" font-weight="bold" text-anchor="middle" dominant-baseline="central" fill="#1a1a1a" textLength="50" lengthAdjust="spacingAndGlyphs" transform="rotate(-17 395.5 395.5)">PETRONAS</text>
<text x="401" y="407.5" font-size="10.3" font-weight="bold" text-anchor="middle" dominant-baseline="central" fill="#1a1a1a" textLength="31" lengthAdjust="spacingAndGlyphs" transform="rotate(-17 401 407.5)">BATU 3</text>
<rect x="519.7" y="414.2" width="60.6" height="35.1" fill="none" stroke="#7a7a7a" stroke-width="1" transform="rotate(-26 550 431.8)"/>
<text x="546.9" y="425.3" font-size="10.3" font-weight="bold" text-anchor="middle" dominant-baseline="central" fill="#1a1a1a" textLength="44" lengthAdjust="spacingAndGlyphs" transform="rotate(-26 546.9 425.3)">NURSERY</text>
<text x="553.1" y="436.25" font-size="10.3" font-weight="bold" text-anchor="middle" dominant-baseline="central" fill="#1a1a1a" textLength="31" lengthAdjust="spacingAndGlyphs" transform="rotate(-26 553.1 436.25)">BATU 3</text>
<rect x="609.3" y="426.2" width="164.2" height="60" fill="none" stroke="#666" stroke-width="1" rx="1"/>
<text x="616" y="440.3" font-size="7.5" font-weight="bold" text-anchor="start" dominant-baseline="central" fill="#1a1a1a" textLength="34.8" lengthAdjust="spacingAndGlyphs">LEGEND:</text>
<path d="M0,-7.6 C1.1,-7.6 1.75,-6.7 1.75,-5.7 L1.2,-4.7 L1.2,6.9 Q1.2,7.6 0,7.6 Q-1.2,7.6 -1.2,6.9 L-1.2,-4.7 L-1.75,-5.7 C-1.75,-6.7 -1.1,-7.6 0,-7.6 Z" fill="#111" stroke="#111" stroke-width="0.35" stroke-linejoin="round" transform="translate(629.65,455.80) rotate(270.0) scale(1.322)"/>
<path d="M0,-7.6 C1.1,-7.6 1.75,-6.7 1.75,-5.7 L1.2,-4.7 L1.2,6.9 Q1.2,7.6 0,7.6 Q-1.2,7.6 -1.2,6.9 L-1.2,-4.7 L-1.75,-5.7 C-1.75,-6.7 -1.1,-7.6 0,-7.6 Z" fill="#05a03c" stroke="#05a03c" stroke-width="0.35" stroke-linejoin="round" transform="translate(629.80,474.20) rotate(270.0) scale(1.342)"/>
<text x="641.5" y="454.2" font-size="7" font-weight="normal" text-anchor="start" dominant-baseline="central" fill="#1a1a1a" textLength="41.5" lengthAdjust="spacingAndGlyphs">Traffic Flow</text>
<text x="641.5" y="468.5" font-size="7" font-weight="normal" text-anchor="start" dominant-baseline="central" fill="#1a1a1a" textLength="117.5" lengthAdjust="spacingAndGlyphs">Traffic Diversion (from Persiaran</text>
<text x="641.5" y="477.2" font-size="7" font-weight="normal" text-anchor="start" dominant-baseline="central" fill="#1a1a1a" textLength="27" lengthAdjust="spacingAndGlyphs">Kerjaya)</text>
<rect x="0" y="0" width="2" height="480" fill="#000" stroke="none" stroke-width="1.0"/>
<rect x="777.8" y="0" width="2.2" height="480" fill="#000" stroke="none" stroke-width="1.0"/>
</svg></body></html>
